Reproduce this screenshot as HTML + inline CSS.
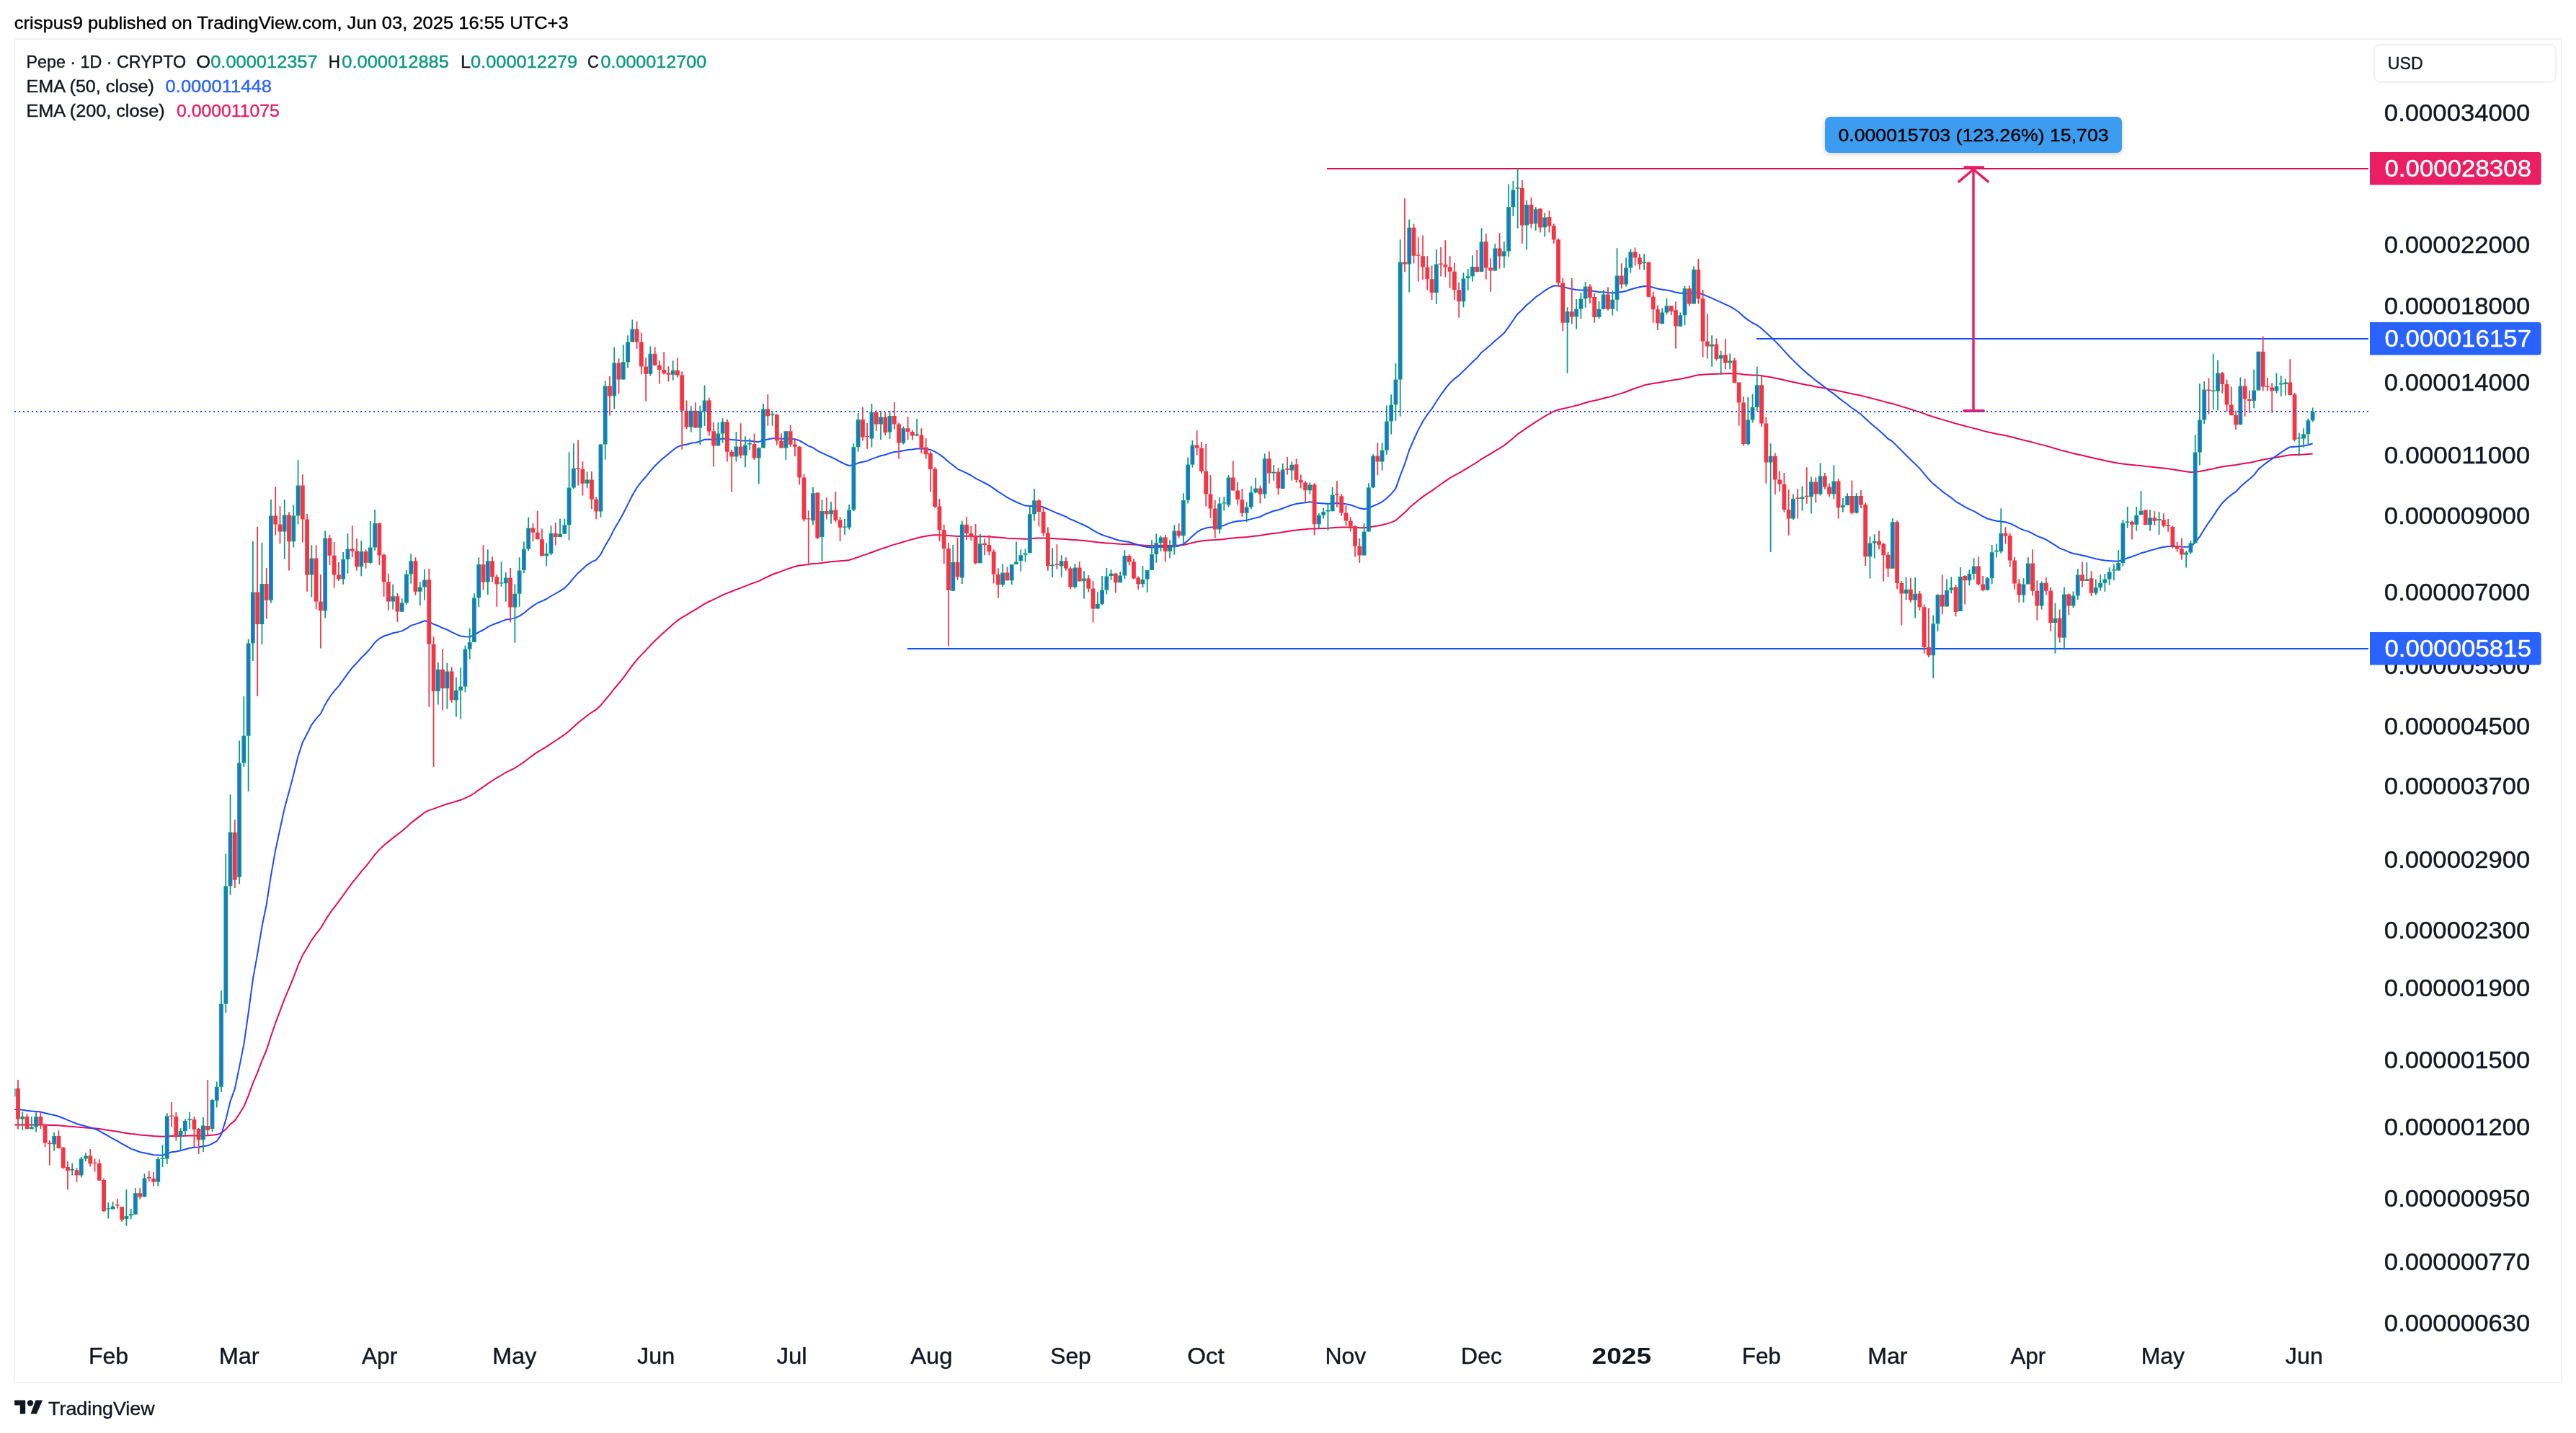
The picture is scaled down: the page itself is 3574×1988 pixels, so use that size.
<!DOCTYPE html><html><head><meta charset="utf-8"><title>Pepe 1D chart</title><style>
html,body{margin:0;padding:0;background:#fff;}
body{width:3574px;height:1988px;overflow:hidden;position:relative;font-family:"Liberation Sans",Arial,sans-serif;}
svg{position:absolute;left:0;top:0;}
</style></head><body>
<svg style="will-change:transform" width="3574" height="1988" viewBox="0 0 3574 1988" font-family="Liberation Sans, Arial, sans-serif">
<rect x="20" y="54" width="3534" height="1864" fill="none" stroke="#f2f2f2" stroke-width="2"/>
<defs><clipPath id="pane"><rect x="20.4" y="55" width="3267.6" height="1775"/></clipPath>
<filter id="sh" x="-10%" y="-30%" width="120%" height="180%"><feDropShadow dx="0" dy="2" stdDeviation="3" flood-color="#000" flood-opacity="0.18"/></filter></defs>
<line x1="1841" y1="234" x2="3286" y2="234" stroke="#e60550" stroke-width="2"/>
<line x1="2437" y1="470" x2="3286" y2="470" stroke="#1450ff" stroke-width="2"/>
<line x1="1259" y1="900" x2="3286" y2="900" stroke="#1450ff" stroke-width="2"/>
<g clip-path="url(#pane)">
<polyline points="18.4,1560.6 25.0,1560.5 31.3,1560.4 37.5,1560.5 43.8,1560.5 50.1,1560.4 56.3,1560.4 62.6,1560.6 68.9,1560.9 75.1,1561.0 81.4,1561.3 87.7,1561.9 93.9,1562.5 100.2,1563.0 106.5,1563.6 112.7,1564.0 119.0,1564.4 125.3,1564.9 131.5,1565.3 137.8,1566.0 144.1,1567.0 150.3,1568.0 156.6,1568.9 162.9,1569.8 169.1,1570.9 175.4,1571.9 181.7,1572.9 187.9,1573.6 194.2,1574.4 200.5,1574.9 206.7,1575.5 213.0,1576.1 219.3,1576.4 225.5,1576.7 231.8,1576.4 238.1,1576.1 244.3,1576.1 250.6,1576.0 256.9,1575.8 263.1,1575.6 269.4,1575.5 275.7,1575.6 281.9,1575.4 288.2,1575.3 294.5,1574.8 300.7,1574.1 307.0,1571.9 313.3,1566.6 319.5,1559.7 325.8,1554.6 332.1,1545.2 338.4,1535.0 344.6,1520.2 350.9,1502.7 357.2,1488.1 363.4,1471.7 369.7,1457.0 376.0,1437.3 382.2,1419.2 388.5,1402.6 394.8,1385.7 401.0,1371.2 407.3,1355.8 413.6,1339.1 419.8,1325.3 426.1,1314.9 432.4,1304.1 438.6,1295.6 444.9,1287.7 451.2,1276.9 457.4,1267.3 463.7,1258.8 470.0,1250.7 476.2,1242.0 482.5,1233.2 488.8,1224.7 495.0,1217.1 501.3,1209.1 507.6,1201.8 513.8,1194.0 520.1,1185.6 526.4,1178.6 532.6,1172.7 538.9,1167.6 545.2,1162.4 551.4,1157.8 557.7,1153.0 564.0,1147.5 570.2,1141.6 576.5,1136.9 582.8,1132.1 589.0,1127.2 595.3,1124.1 601.6,1122.1 607.8,1119.6 614.1,1117.6 620.4,1115.3 626.6,1113.6 632.9,1111.7 639.2,1109.8 645.4,1107.1 651.7,1104.3 658.0,1100.5 664.2,1095.8 670.5,1091.7 676.8,1087.1 683.0,1083.0 689.3,1079.2 695.6,1075.5 701.8,1071.6 708.1,1068.6 714.4,1065.3 720.6,1061.5 726.9,1057.2 733.2,1052.3 739.4,1047.7 745.7,1043.4 752.0,1039.6 758.2,1035.8 764.5,1031.6 770.8,1027.5 777.0,1023.4 783.3,1019.2 789.6,1014.0 795.8,1008.2 802.1,1002.7 808.4,997.7 814.6,992.7 820.9,988.3 827.2,984.4 833.4,978.6 839.7,970.9 846.0,963.7 852.2,955.5 858.5,948.1 864.8,940.3 871.0,931.9 877.3,923.2 883.6,915.3 889.8,908.6 896.1,902.2 902.4,895.3 908.6,889.0 914.9,883.0 921.2,877.3 927.4,871.7 933.7,866.1 940.0,860.9 946.2,856.7 952.5,853.1 958.8,849.1 965.1,845.6 971.3,841.7 977.6,837.7 983.9,834.5 990.1,831.7 996.4,828.6 1002.7,825.4 1008.9,822.9 1015.2,820.5 1021.5,817.9 1027.7,815.6 1034.0,813.1 1040.3,810.6 1046.5,808.4 1052.8,806.1 1059.1,802.9 1065.3,800.0 1071.6,797.0 1077.9,794.7 1084.1,792.6 1090.4,790.1 1096.7,788.0 1102.9,785.9 1109.2,784.5 1115.5,783.8 1121.7,783.1 1128.0,782.0 1134.3,781.7 1140.5,780.9 1146.8,780.1 1153.1,779.3 1159.3,778.7 1165.6,778.2 1171.9,777.7 1178.1,777.0 1184.4,775.1 1190.7,772.7 1196.9,770.6 1203.2,768.6 1209.5,766.2 1215.7,764.0 1222.0,761.6 1228.3,759.7 1234.5,757.4 1240.8,755.4 1247.1,753.7 1253.3,751.8 1259.6,749.9 1265.9,748.2 1272.1,746.5 1278.4,745.0 1284.7,743.7 1290.9,742.7 1297.2,742.3 1303.5,742.2 1309.7,742.4 1316.0,743.1 1322.3,743.5 1328.5,744.0 1334.8,743.8 1341.1,743.8 1347.3,743.8 1353.6,744.1 1359.9,744.2 1366.1,744.3 1372.4,744.5 1378.7,745.0 1384.9,745.6 1391.2,746.1 1397.5,746.7 1403.7,747.0 1410.0,747.3 1416.3,747.5 1422.5,747.7 1428.8,747.4 1435.1,746.8 1441.3,746.4 1447.6,746.4 1453.9,746.7 1460.1,747.1 1466.4,747.4 1472.7,747.7 1478.9,748.1 1485.2,748.7 1491.5,749.1 1497.7,749.6 1504.0,750.1 1510.3,750.7 1516.5,751.6 1522.8,752.3 1529.1,752.9 1535.3,753.4 1541.6,753.8 1547.9,754.3 1554.1,754.7 1560.4,754.9 1566.7,755.1 1572.9,755.6 1579.2,756.1 1585.5,756.5 1591.8,756.9 1598.0,757.0 1604.3,756.9 1610.6,756.8 1616.8,756.9 1623.1,756.9 1629.4,756.7 1635.6,756.6 1641.9,755.9 1648.2,754.6 1654.4,753.0 1660.7,751.5 1667.0,750.4 1673.2,749.7 1679.5,749.2 1685.8,749.1 1692.0,748.6 1698.3,748.0 1704.6,747.1 1710.8,746.4 1717.1,745.8 1723.4,745.4 1729.6,745.0 1735.9,744.3 1742.2,743.6 1748.4,743.0 1754.7,741.8 1761.0,740.8 1767.2,739.9 1773.5,739.2 1779.8,738.3 1786.0,737.3 1792.3,736.3 1798.6,735.5 1804.8,734.8 1811.1,734.2 1817.4,733.6 1823.6,733.5 1829.9,733.3 1836.2,733.1 1842.4,732.8 1848.7,732.3 1855.0,731.8 1861.2,731.6 1867.5,731.5 1873.8,731.5 1880.0,731.8 1886.3,732.2 1892.6,732.2 1898.8,731.6 1905.1,730.5 1911.4,729.5 1917.6,728.3 1923.9,726.6 1930.2,724.6 1936.4,722.1 1942.7,716.5 1949.0,711.1 1955.2,704.6 1961.5,699.2 1967.8,694.0 1974.0,689.1 1980.3,684.8 1986.6,680.9 1992.8,676.2 1999.1,671.7 2005.4,667.4 2011.6,663.2 2017.9,659.6 2024.2,656.4 2030.4,652.7 2036.7,648.9 2043.0,645.0 2049.2,641.3 2055.5,636.8 2061.8,633.2 2068.0,629.6 2074.3,625.6 2080.6,621.9 2086.8,618.0 2093.1,613.1 2099.4,607.7 2105.6,602.4 2111.9,598.2 2118.2,593.6 2124.4,589.6 2130.7,585.3 2137.0,581.5 2143.2,577.6 2149.5,574.0 2155.8,570.7 2162.0,568.5 2168.3,567.1 2174.6,565.6 2180.8,564.1 2187.1,562.5 2193.4,560.8 2199.6,558.8 2205.9,557.0 2212.2,555.7 2218.5,554.2 2224.7,552.5 2231.0,551.1 2237.3,549.5 2243.5,547.4 2249.8,545.6 2256.1,543.5 2262.3,541.0 2268.6,538.7 2274.9,536.6 2281.1,534.5 2287.4,533.1 2293.7,531.9 2299.9,531.0 2306.2,529.9 2312.5,528.7 2318.7,527.7 2325.0,526.8 2331.3,525.8 2337.5,524.4 2343.8,523.2 2350.1,521.5 2356.3,520.2 2362.6,519.8 2368.9,519.3 2375.1,518.9 2381.4,518.7 2387.7,518.4 2393.9,518.3 2400.2,518.1 2406.5,518.2 2412.7,518.6 2419.0,519.5 2425.3,520.1 2431.5,520.5 2437.8,520.6 2444.1,521.2 2450.3,522.3 2456.6,523.2 2462.9,524.4 2469.1,525.7 2475.4,527.2 2481.7,528.7 2487.9,530.0 2494.2,531.4 2500.5,532.7 2506.7,534.0 2513.0,535.1 2519.3,536.4 2525.5,537.5 2531.8,538.6 2538.1,539.9 2544.3,541.0 2550.6,542.3 2556.9,543.6 2563.1,544.9 2569.4,546.2 2575.7,547.4 2581.9,548.7 2588.2,550.4 2594.5,552.0 2600.7,553.6 2607.0,555.2 2613.3,556.9 2619.5,558.7 2625.8,560.0 2632.1,561.9 2638.3,563.9 2644.6,565.8 2650.9,567.7 2657.1,569.6 2663.4,571.6 2669.7,573.9 2675.9,576.2 2682.2,578.3 2688.5,580.2 2694.7,582.1 2701.0,583.9 2707.3,585.7 2713.5,587.6 2719.8,589.3 2726.1,591.0 2732.3,592.6 2738.6,594.1 2744.9,595.8 2751.1,597.6 2757.4,599.2 2763.7,600.5 2769.9,601.9 2776.2,603.1 2782.5,604.3 2788.7,605.7 2795.0,607.3 2801.3,609.0 2807.5,610.6 2813.8,612.0 2820.1,613.6 2826.3,615.4 2832.6,616.9 2838.9,618.5 2845.2,620.4 2851.4,622.2 2857.7,624.1 2864.0,625.7 2870.2,627.4 2876.5,629.0 2882.8,630.4 2889.0,631.8 2895.3,633.2 2901.6,634.7 2907.8,636.2 2914.1,637.6 2920.4,639.0 2926.6,640.2 2932.9,641.5 2939.2,642.7 2945.4,643.4 2951.7,644.2 2958.0,644.9 2964.2,645.6 2970.5,646.1 2976.8,646.9 2983.0,647.5 2989.3,648.2 2995.6,648.9 3001.8,649.6 3008.1,650.3 3014.4,651.3 3020.6,652.2 3026.9,653.3 3033.2,654.3 3039.4,655.1 3045.7,654.8 3052.0,654.1 3058.2,652.8 3064.5,651.5 3070.8,650.3 3077.0,648.7 3083.3,647.4 3089.6,646.4 3095.8,645.7 3102.1,645.1 3108.4,643.8 3114.6,642.8 3120.9,641.9 3127.2,640.8 3133.4,638.9 3139.7,637.8 3146.0,636.6 3152.2,635.6 3158.5,634.5 3164.8,633.3 3171.0,632.2 3177.3,631.2 3183.6,631.0 3189.8,630.8 3196.1,630.5 3202.4,630.0 3208.6,629.4" fill="none" stroke="#e60a55" stroke-width="2" stroke-linejoin="round"/>
<polyline points="18.4,1538.8 25.0,1539.3 31.3,1539.7 37.5,1540.7 43.8,1541.6 50.1,1541.9 56.3,1542.6 62.6,1544.2 68.9,1545.8 75.1,1546.9 81.4,1548.7 87.7,1551.2 93.9,1553.9 100.2,1556.4 106.5,1559.0 112.7,1560.8 119.0,1562.4 125.3,1564.3 131.5,1566.2 137.8,1568.8 144.1,1572.6 150.3,1576.2 156.6,1579.7 162.9,1582.9 169.1,1586.7 175.4,1590.2 181.7,1593.6 187.9,1595.8 194.2,1598.2 200.5,1599.5 206.7,1600.8 213.0,1602.3 219.3,1602.5 225.5,1602.7 231.8,1600.4 238.1,1598.3 244.3,1597.4 250.6,1596.2 256.9,1594.5 263.1,1592.8 269.4,1591.8 275.7,1591.4 281.9,1590.2 288.2,1589.3 294.5,1586.6 300.7,1583.2 307.0,1573.9 313.3,1553.4 319.5,1528.1 325.8,1510.7 332.1,1480.1 338.4,1448.6 344.6,1405.5 350.9,1358.6 357.2,1323.4 363.4,1285.8 369.7,1255.0 376.0,1214.1 382.2,1179.6 388.5,1150.0 394.8,1121.1 401.0,1098.4 407.3,1074.6 413.6,1049.1 419.8,1030.0 426.1,1018.0 432.4,1005.3 438.6,997.1 444.9,990.1 451.2,977.4 457.4,967.0 463.7,958.9 470.0,951.6 476.2,943.1 482.5,934.3 488.8,926.2 495.0,919.7 501.3,912.5 507.6,906.5 513.8,899.6 520.1,891.3 526.4,885.8 532.6,882.5 538.9,880.5 545.2,878.2 551.4,877.0 557.7,875.4 564.0,872.0 570.2,867.9 576.5,865.9 582.8,863.8 589.0,861.3 595.3,862.5 601.6,865.9 607.8,868.2 614.1,871.3 620.4,873.5 626.6,876.9 632.9,879.8 639.2,882.5 645.4,883.2 651.7,883.5 658.0,881.2 664.2,876.9 670.5,874.0 676.8,869.8 683.0,866.8 689.3,864.5 695.6,862.1 701.8,859.6 708.1,858.9 714.4,857.4 720.6,854.7 726.9,850.6 733.2,845.3 739.4,840.6 745.7,836.5 752.0,833.8 758.2,831.0 764.5,827.0 770.8,823.5 777.0,819.9 783.3,815.9 789.6,809.5 795.8,801.9 802.1,794.9 808.4,789.2 814.6,783.6 820.9,779.7 827.2,776.7 833.4,769.1 839.7,757.0 846.0,746.6 852.2,733.9 858.5,723.5 864.8,712.3 871.0,699.9 877.3,687.2 883.6,676.5 889.8,668.4 896.1,661.5 902.4,653.3 908.6,646.5 914.9,640.3 921.2,634.8 927.4,629.7 933.7,624.5 940.0,619.9 946.2,617.8 952.5,616.8 958.8,614.8 965.1,614.0 971.3,612.2 977.6,609.8 983.9,609.4 990.1,609.7 996.4,609.4 1002.7,608.4 1008.9,609.1 1015.2,610.0 1021.5,610.4 1027.7,611.2 1034.0,611.5 1040.3,611.6 1046.5,612.5 1052.8,612.9 1059.1,611.0 1065.3,609.6 1071.6,608.2 1077.9,608.3 1084.1,608.8 1090.4,608.4 1096.7,608.7 1102.9,609.2 1109.2,611.1 1115.5,614.9 1121.7,618.6 1128.0,621.0 1134.3,625.3 1140.5,628.3 1146.8,631.3 1153.1,634.0 1159.3,637.1 1165.6,640.5 1171.9,643.7 1178.1,646.0 1184.4,645.0 1190.7,642.3 1196.9,640.8 1203.2,639.4 1209.5,636.6 1215.7,634.6 1222.0,632.2 1228.3,630.9 1234.5,628.7 1240.8,627.0 1247.1,626.5 1253.3,625.2 1259.6,624.1 1265.9,623.4 1272.1,622.5 1278.4,622.5 1284.7,622.8 1290.9,623.9 1297.2,626.7 1303.5,630.5 1309.7,634.9 1316.0,640.8 1322.3,645.5 1328.5,650.6 1334.8,653.3 1341.1,656.4 1347.3,659.5 1353.6,663.7 1359.9,666.9 1366.1,670.0 1372.4,673.4 1378.7,677.6 1384.9,682.1 1391.2,686.0 1397.5,690.1 1403.7,693.4 1410.0,696.5 1416.3,699.1 1422.5,701.6 1428.8,702.0 1435.1,701.7 1441.3,702.1 1447.6,703.5 1453.9,706.4 1460.1,709.2 1466.4,711.8 1472.7,714.3 1478.9,716.9 1485.2,720.4 1491.5,722.8 1497.7,725.8 1504.0,728.5 1510.3,731.7 1516.5,735.6 1522.8,739.1 1529.1,742.0 1535.3,744.1 1541.6,746.0 1547.9,748.3 1554.1,750.1 1560.4,750.9 1566.7,752.0 1572.9,753.9 1579.2,756.0 1585.5,757.8 1591.8,759.0 1598.0,759.4 1604.3,759.2 1610.6,758.6 1616.8,758.9 1623.1,758.9 1629.4,758.0 1635.6,757.4 1641.9,754.7 1648.2,749.8 1654.4,743.8 1660.7,738.2 1667.0,734.6 1673.2,732.5 1679.5,731.4 1685.8,731.6 1692.0,730.2 1698.3,728.9 1704.6,726.1 1710.8,724.2 1717.1,722.9 1723.4,722.5 1729.6,721.7 1735.9,720.1 1742.2,718.4 1748.4,717.0 1754.7,713.6 1761.0,711.2 1767.2,708.8 1773.5,707.5 1779.8,705.2 1786.0,702.9 1792.3,700.5 1798.6,699.1 1804.8,697.9 1811.1,697.2 1817.4,696.2 1823.6,697.4 1829.9,698.0 1836.2,698.5 1842.4,698.9 1848.7,698.4 1855.0,697.9 1861.2,698.4 1867.5,699.3 1873.8,700.5 1880.0,702.6 1886.3,705.1 1892.6,706.3 1898.8,705.1 1905.1,702.0 1911.4,699.4 1917.6,696.2 1923.9,691.2 1930.2,685.3 1936.4,677.8 1942.7,659.9 1949.0,643.6 1955.2,624.5 1961.5,610.0 1967.8,596.4 1974.0,584.8 1980.3,575.1 1986.6,567.0 1992.8,557.0 1999.1,547.7 2005.4,539.2 2011.6,531.5 2017.9,525.6 2024.2,520.8 2030.4,514.6 2036.7,508.6 2043.0,502.2 2049.2,496.6 2055.5,488.9 2061.8,483.7 2068.0,478.8 2074.3,472.7 2080.6,467.4 2086.8,462.1 2093.1,453.6 2099.4,444.3 2105.6,435.4 2111.9,429.8 2118.2,423.0 2124.4,418.0 2130.7,412.2 2137.0,408.0 2143.2,403.3 2149.5,399.4 2155.8,396.5 2162.0,396.4 2168.3,398.3 2174.6,399.6 2180.8,401.0 2187.1,402.1 2193.4,402.6 2199.6,402.4 2205.9,402.8 2212.2,404.2 2218.5,405.1 2224.7,405.2 2231.0,406.1 2237.3,406.5 2243.5,405.5 2249.8,405.1 2256.1,403.7 2262.3,401.5 2268.6,399.7 2274.9,398.3 2281.1,396.9 2287.4,397.5 2293.7,398.7 2299.9,400.5 2306.2,401.8 2312.5,402.6 2318.7,403.7 2325.0,405.6 2331.3,406.8 2337.5,406.5 2343.8,407.1 2350.1,405.7 2356.3,406.1 2362.6,408.5 2368.9,411.1 2375.1,413.6 2381.4,416.6 2387.7,419.3 2393.9,422.3 2400.2,425.1 2406.5,428.8 2412.7,433.2 2419.0,439.1 2425.3,443.9 2431.5,448.0 2437.8,451.1 2444.1,455.7 2450.3,461.6 2456.6,467.2 2462.9,473.4 2469.1,479.7 2475.4,486.6 2481.7,493.7 2487.9,499.9 2494.2,506.0 2500.5,511.9 2506.7,517.6 2513.0,522.6 2519.3,527.9 2525.5,532.4 2531.8,537.2 2538.1,542.1 2544.3,546.4 2550.6,551.6 2556.9,556.5 2563.1,561.0 2569.4,566.0 2575.7,570.2 2581.9,574.6 2588.2,580.8 2594.5,586.4 2600.7,591.8 2607.0,597.1 2613.3,602.7 2619.5,608.7 2625.8,612.7 2632.1,618.9 2638.3,625.3 2644.6,631.4 2650.9,637.7 2657.1,643.6 2663.4,649.9 2669.7,657.3 2675.9,664.8 2682.2,671.1 2688.5,676.2 2694.7,681.6 2701.0,686.2 2707.3,690.6 2713.5,695.8 2719.8,699.4 2726.1,703.1 2732.3,706.4 2738.6,709.2 2744.9,712.8 2751.1,716.4 2757.4,719.5 2763.7,721.2 2769.9,722.8 2776.2,723.5 2782.5,724.3 2788.7,726.2 2795.0,729.2 2801.3,732.6 2807.5,735.4 2813.8,737.1 2820.1,740.1 2826.3,743.6 2832.6,746.0 2838.9,748.6 2845.2,752.6 2851.4,756.3 2857.7,760.6 2864.0,762.9 2870.2,765.7 2876.5,768.0 2882.8,769.1 2889.0,770.5 2895.3,771.7 2901.6,773.6 2907.8,775.2 2914.1,776.4 2920.4,777.5 2926.6,778.1 2932.9,778.5 2939.2,778.6 2945.4,776.4 2951.7,774.2 2958.0,772.3 2964.2,769.9 2970.5,767.3 2976.8,765.7 2983.0,763.7 2989.3,762.1 2995.6,760.3 3001.8,759.1 3008.1,757.9 3014.4,757.9 3020.6,758.0 3026.9,758.5 3033.2,758.8 3039.4,758.6 3045.7,752.6 3052.0,744.4 3058.2,734.3 3064.5,724.8 3070.8,715.9 3077.0,706.1 3083.3,697.8 3089.6,691.5 3095.8,686.4 3102.1,682.1 3108.4,675.3 3114.6,669.8 3120.9,664.7 3127.2,659.1 3133.4,650.9 3139.7,645.8 3146.0,640.9 3152.2,636.6 3158.5,632.1 3164.8,627.7 3171.0,623.5 3177.3,620.2 3183.6,619.8 3189.8,619.3 3196.1,618.6 3202.4,617.2 3208.6,615.3" fill="none" stroke="#1a4cff" stroke-width="2" stroke-linejoin="round"/>
<path d="M18.73 1505.00V1525.00M31.27 1542.20V1567.50M43.80 1549.10V1566.30M50.07 1542.20V1570.60M75.14 1571.00V1596.70M100.20 1614.00V1630.50M112.74 1605.10V1633.50M119.01 1599.30V1611.30M150.34 1668.20V1690.60M156.61 1667.00V1677.50M175.41 1650.20V1700.70M181.68 1677.10V1691.60M187.94 1648.20V1684.70M200.48 1628.00V1660.60M219.28 1605.20V1645.70M225.54 1588.40V1618.90M231.81 1544.20V1614.90M250.61 1565.10V1595.60M256.88 1552.20V1574.70M263.15 1543.10V1565.90M281.95 1549.80V1598.00M294.48 1525.00V1570.00M300.75 1500.40V1536.50M307.02 1374.30V1515.00M313.28 1184.30V1405.00M319.55 1102.00V1241.50M332.08 1027.50V1226.40M338.35 966.00V1064.00M344.62 886.80V1098.00M350.88 751.00V917.00M363.42 752.80V894.30M375.95 693.00V836.60M394.75 693.00V775.80M407.29 700.40V759.40M413.55 638.20V727.40M432.36 756.30V828.30M451.16 736.20V857.50M476.22 766.00V810.70M482.49 740.00V795.80M501.29 750.00V799.30M513.83 723.00V782.00M520.09 707.00V763.70M545.16 810.70V845.60M557.70 830.20V848.80M563.96 791.00V838.70M570.23 768.20V809.60M582.76 807.30V840.30M589.03 790.00V832.60M607.83 918.70V977.40M620.37 919.70V983.40M632.90 939.50V994.60M639.17 926.20V997.60M645.43 895.40V960.20M651.70 871.50V914.60M657.97 823.20V891.00M664.23 773.30V842.30M676.77 762.20V825.00M695.57 779.30V813.80M701.84 794.10V834.50M714.37 810.40V891.70M720.64 773.30V841.70M726.90 751.30V795.30M733.17 717.40V764.30M758.24 753.40V785.20M764.51 729.30V770.20M777.04 719.50V745.00M783.31 719.50V740.80M789.57 627.30V749.60M795.84 615.20V678.00M814.64 654.60V677.60M833.44 616.20V717.80M839.71 528.30V637.70M852.24 481.40V567.40M864.78 478.40V526.40M871.05 465.30V510.60M877.31 443.50V474.50M902.38 480.40V521.40M933.72 500.30V527.50M958.78 563.30V599.70M971.32 562.40V617.60M977.58 534.40V590.90M996.39 586.00V618.60M1002.65 580.20V614.50M1021.45 599.10V640.60M1033.99 605.30V648.30M1040.25 608.30V624.50M1052.79 620.60V671.30M1059.06 560.00V621.40M1071.59 571.50V590.70M1090.39 598.30V638.30M1127.99 676.00V728.60M1140.53 693.20V778.60M1153.06 696.00V726.70M1171.86 720.00V741.80M1178.13 699.90V734.60M1184.39 615.30V709.10M1190.66 573.10V626.70M1209.46 560.00V620.60M1222.00 570.40V609.90M1234.53 570.40V608.90M1253.33 591.50V616.60M1272.13 581.00V605.60M1322.27 756.00V819.80M1334.80 722.40V809.90M1359.87 740.80V781.30M1391.21 782.20V814.00M1403.74 783.00V811.30M1410.01 751.40V783.00M1416.27 762.20V792.70M1422.54 761.50V779.50M1428.81 702.60V767.50M1435.08 678.00V722.50M1460.14 760.30V800.70M1472.68 770.20V800.70M1491.48 782.10V816.60M1504.01 792.30V830.50M1522.81 821.20V844.40M1529.08 799.00V839.50M1535.35 788.10V824.50M1541.61 790.10V804.70M1554.15 793.10V808.20M1560.42 763.20V803.30M1585.48 785.20V815.30M1591.75 791.00V822.00M1598.02 749.20V791.00M1604.28 740.40V780.70M1610.55 743.30V765.10M1623.09 749.20V774.30M1629.35 728.20V769.60M1641.89 684.20V753.30M1648.15 634.40V698.60M1654.42 611.00V648.60M1692.02 689.70V740.40M1698.29 689.20V708.60M1704.56 659.00V703.60M1729.62 696.20V724.30M1735.89 674.30V706.50M1742.16 663.00V684.20M1754.69 629.20V691.50M1767.23 645.10V666.70M1779.76 643.10V677.90M1792.29 640.20V666.70M1817.36 669.40V685.60M1829.90 712.30V733.50M1836.16 704.40V719.40M1842.43 697.50V735.70M1848.70 676.00V709.20M1892.57 726.20V770.50M1898.83 670.30V737.50M1905.10 630.20V677.30M1917.63 614.20V652.80M1923.90 562.40V630.70M1930.17 547.30V602.50M1936.44 504.10V583.70M1942.70 332.30V577.40M1955.24 304.50V405.50M1992.84 345.90V422.10M2030.44 378.20V426.50M2036.71 373.20V402.80M2042.97 354.30V390.50M2055.51 316.40V377.00M2074.31 338.30V375.50M2086.84 335.30V371.60M2093.11 255.40V356.30M2099.38 251.10V300.00M2105.64 233.00V316.80M2118.18 278.00V346.60M2130.71 287.20V319.90M2143.25 295.30V328.60M2174.58 426.30V517.70M2187.12 415.10V456.60M2193.38 406.20V442.40M2199.65 391.10V426.70M2218.45 418.00V442.60M2224.72 402.20V429.30M2237.25 403.20V437.60M2243.52 344.20V431.70M2256.05 357.40V397.60M2262.32 345.20V378.70M2281.12 352.30V374.50M2306.19 427.50V449.20M2312.45 414.10V436.40M2331.26 433.40V453.00M2337.52 397.10V451.20M2350.06 369.20V421.50M2375.12 465.20V508.80M2387.66 486.50V520.10M2400.19 490.50V512.30M2425.26 551.10V617.60M2431.53 546.40V586.30M2437.80 508.40V570.00M2456.60 615.20V766.00M2487.93 685.50V721.30M2500.47 674.50V708.50M2513.00 661.30V712.60M2525.53 642.50V687.40M2544.33 645.30V692.40M2556.87 691.10V710.50M2563.14 684.30V701.00M2575.67 684.30V712.40M2594.47 744.20V802.60M2600.74 741.20V774.50M2625.81 718.90V788.80M2644.61 801.10V832.00M2657.14 801.10V857.30M2682.21 853.60V941.00M2688.48 824.20V876.10M2701.01 803.20V841.50M2707.28 800.40V823.20M2719.81 787.10V848.10M2732.34 790.30V812.30M2738.61 774.30V804.30M2757.41 800.40V818.70M2763.68 756.10V810.40M2769.95 754.20V773.50M2776.21 705.20V767.40M2807.55 802.30V835.70M2813.82 773.10V810.40M2832.62 806.40V845.40M2851.42 836.40V906.50M2863.95 814.40V901.50M2876.49 820.40V843.30M2882.75 789.20V832.10M2895.29 780.20V806.00M2907.82 803.60V825.40M2914.09 797.30V819.40M2920.35 795.90V820.70M2926.62 787.20V811.50M2932.89 782.50V805.30M2939.16 762.90V791.40M2945.42 721.00V785.90M2951.69 703.10V732.30M2964.22 703.10V736.60M2970.49 681.00V714.30M2983.02 707.10V736.60M2995.56 710.00V741.70M3033.16 764.20V787.60M3039.43 750.20V768.70M3045.69 603.50V753.40M3051.96 532.30V645.30M3058.23 529.10V588.20M3070.76 490.40V567.90M3077.03 499.40V569.30M3108.36 523.50V589.20M3127.16 512.40V566.50M3133.43 487.80V541.40M3158.50 517.40V545.60M3164.77 521.30V549.80M3171.03 525.50V548.60M3189.84 600.50V632.70M3196.10 594.20V620.70M3202.37 580.40V616.00M3208.64 565.40V585.50" stroke="#089981" stroke-width="1.75" fill="none"/>
<path d="M25.00 1498.00V1566.80M37.53 1545.00V1566.30M56.34 1541.40V1566.30M62.60 1560.60V1591.60M68.87 1582.10V1616.70M81.40 1568.30V1593.60M87.67 1591.30V1621.70M93.94 1611.30V1650.40M106.47 1620.20V1639.70M125.27 1594.10V1618.60M131.54 1607.40V1625.40M137.81 1608.20V1638.10M144.07 1635.10V1681.60M162.87 1663.00V1676.70M169.14 1674.30V1694.80M194.21 1648.20V1663.80M206.74 1624.20V1638.90M213.01 1626.10V1645.70M238.08 1529.00V1563.50M244.34 1543.10V1582.70M269.41 1549.00V1591.60M275.68 1565.10V1600.70M288.21 1498.00V1575.00M325.82 1137.00V1232.00M357.15 731.00V966.00M369.69 788.00V858.50M382.22 675.30V742.50M388.49 702.30V754.40M401.02 710.20V791.50M419.82 658.30V752.50M426.09 713.00V820.70M438.62 756.30V845.60M444.89 797.00V899.50M457.42 742.00V784.00M463.69 752.00V815.50M469.96 780.00V806.00M488.76 729.00V773.00M495.03 747.00V791.70M507.56 762.50V788.60M526.36 725.00V784.00M532.63 768.00V827.80M538.89 795.80V846.80M551.43 823.00V862.80M576.50 773.30V825.70M595.30 789.00V980.80M601.56 883.20V1063.80M614.10 900.40V985.50M626.63 925.30V974.70M670.50 756.20V818.70M683.04 772.00V807.50M689.30 797.00V841.70M708.10 788.00V863.60M739.44 726.20V751.30M745.71 708.40V748.20M751.97 733.50V771.20M770.77 725.10V756.50M802.11 610.60V673.40M808.38 640.30V687.40M820.91 654.00V706.30M827.18 689.50V720.30M845.98 522.10V576.50M858.51 497.30V546.50M883.58 446.10V483.70M889.85 461.50V519.40M896.11 496.30V556.70M908.65 481.40V507.50M914.91 500.30V532.60M921.18 488.30V519.40M927.45 508.30V529.50M939.98 496.30V523.40M946.25 515.20V623.80M952.52 555.60V595.50M965.05 558.20V593.50M983.85 551.40V604.60M990.12 586.00V647.50M1008.92 581.50V640.60M1015.19 623.70V682.50M1027.72 587.30V635.50M1046.52 601.40V638.30M1065.32 546.90V590.70M1077.86 574.50V617.50M1084.12 601.40V621.40M1096.66 589.90V619.80M1102.92 609.40V632.90M1109.19 619.00V672.40M1115.46 657.50V723.50M1121.73 708.30V784.20M1134.26 683.60V747.50M1146.79 690.30V720.50M1159.33 682.00V724.50M1165.59 717.50V750.70M1196.93 565.00V611.60M1203.20 587.10V622.80M1215.73 569.20V597.70M1228.26 572.10V603.90M1240.80 558.00V595.50M1247.07 586.50V636.70M1259.60 578.10V609.90M1265.87 596.50V610.60M1278.40 594.20V628.70M1284.67 608.00V636.80M1290.93 626.40V682.30M1297.20 648.30V704.70M1303.47 692.00V750.70M1309.74 727.70V782.20M1316.00 753.00V896.40M1328.54 746.10V804.80M1341.07 716.90V749.10M1347.34 730.00V750.00M1353.60 727.00V783.00M1366.14 747.30V770.30M1372.40 742.20V770.30M1378.67 762.20V809.40M1384.94 788.20V829.70M1397.47 786.40V805.30M1441.34 692.40V730.40M1447.61 703.30V743.70M1453.88 731.40V791.80M1466.41 755.20V789.70M1478.94 773.20V791.40M1485.21 786.10V817.50M1497.75 779.10V806.40M1510.28 798.00V821.50M1516.55 806.00V863.60M1547.88 795.40V822.60M1566.68 769.30V784.40M1572.95 775.10V803.60M1579.22 799.40V817.80M1616.82 742.10V779.60M1635.62 726.00V746.60M1660.69 597.00V631.50M1666.95 613.10V656.70M1673.22 616.00V702.60M1679.49 659.00V718.70M1685.76 693.50V746.60M1710.82 639.40V680.50M1717.09 669.10V700.20M1723.36 678.30V716.70M1748.43 673.40V698.50M1760.96 626.20V670.70M1773.49 649.10V686.60M1786.03 634.10V658.40M1798.56 636.20V669.60M1804.83 658.40V677.60M1811.10 667.30V696.80M1823.63 670.30V742.60M1854.96 667.30V703.50M1861.23 685.30V715.80M1867.50 701.20V729.50M1873.77 717.20V737.50M1880.03 728.70V772.40M1886.30 746.90V780.80M1911.37 614.20V659.40M1948.97 275.20V377.60M1961.50 310.40V365.50M1967.77 329.30V390.50M1974.04 326.40V387.90M1980.30 355.30V402.60M1986.57 368.40V415.90M1999.11 343.00V383.40M2005.37 333.20V384.60M2011.64 355.30V399.60M2017.91 365.10V415.90M2024.17 391.80V440.70M2049.24 347.10V377.80M2061.78 324.00V387.80M2068.04 358.30V404.70M2080.58 323.30V372.70M2111.91 249.90V337.90M2124.45 274.10V316.80M2136.98 289.20V322.50M2149.51 292.30V322.50M2155.78 310.20V337.90M2162.05 330.60V397.30M2168.31 386.00V459.50M2180.85 386.00V449.50M2205.92 394.30V420.80M2212.18 407.00V447.70M2230.98 398.20V430.70M2249.79 365.20V400.50M2268.59 343.40V368.70M2274.85 352.30V373.70M2287.39 363.20V412.60M2293.65 404.40V447.70M2299.92 423.40V457.80M2318.72 424.20V437.00M2324.99 418.40V483.50M2343.79 396.20V424.70M2356.32 359.10V421.50M2362.59 402.00V495.70M2368.86 435.20V497.40M2381.39 469.50V500.40M2393.93 470.00V512.30M2406.46 496.60V531.50M2412.73 530.60V590.50M2418.99 550.20V618.40M2444.06 521.90V592.60M2450.33 578.40V670.80M2462.86 628.40V685.90M2469.13 653.40V681.70M2475.40 656.10V710.40M2481.66 679.30V742.80M2494.20 678.30V719.40M2506.73 648.20V698.70M2519.27 662.30V697.60M2531.80 656.10V678.70M2538.07 670.40V689.20M2550.60 664.20V719.40M2569.40 666.40V713.50M2581.94 680.00V705.30M2588.20 697.30V785.30M2607.00 736.20V762.20M2613.27 752.90V806.50M2619.54 765.80V800.40M2632.07 722.20V817.30M2638.34 806.00V867.50M2650.87 801.70V835.70M2663.41 819.90V847.10M2669.67 838.50V906.40M2675.94 843.70V912.00M2694.74 797.40V852.30M2713.54 811.70V855.30M2726.08 798.30V838.50M2744.88 772.20V812.30M2751.14 799.10V820.30M2782.48 731.40V754.50M2788.75 739.40V786.60M2795.01 772.70V817.60M2801.28 803.10V835.70M2820.08 762.20V826.40M2826.35 805.20V860.40M2838.88 801.10V825.60M2845.15 814.40V875.80M2857.68 845.50V891.40M2870.22 823.20V853.40M2889.02 779.20V814.40M2901.55 792.20V827.10M2957.96 722.20V748.40M2976.76 707.10V728.20M2989.29 709.30V728.90M3001.83 712.20V731.70M3008.09 720.10V737.70M3014.36 729.20V760.60M3020.63 752.10V765.60M3026.89 747.10V776.60M3064.50 524.50V574.80M3083.30 516.10V545.40M3089.56 526.60V571.00M3095.83 536.40V576.20M3102.10 569.40V595.90M3114.63 525.50V577.80M3120.90 541.40V572.40M3139.70 466.50V542.60M3145.97 524.10V542.60M3152.23 531.30V572.40M3177.30 498.30V548.60M3183.57 544.70V612.60" stroke="#f23645" stroke-width="1.75" fill="none"/>
<path d="M15.83 1510.00h5.80v11.50h-5.80zM28.37 1549.10h5.80v3.50h-5.80zM40.90 1563.40h5.80v2.90h-5.80zM47.17 1549.10h5.80v14.30h-5.80zM72.24 1576.00h5.80v11.50h-5.80zM97.30 1622.00h5.80v1.60h-5.80zM109.84 1607.40h5.80v23.10h-5.80zM116.11 1603.60h5.80v3.80h-5.80zM147.44 1676.20h5.80v1.30h-5.80zM153.71 1673.40h5.80v4.10h-5.80zM172.51 1687.10h5.80v4.00h-5.80zM178.78 1684.20h5.80v2.10h-5.80zM185.04 1655.30h5.80v29.40h-5.80zM197.58 1634.40h5.80v26.20h-5.80zM216.38 1608.10h5.80v31.60h-5.80zM222.64 1606.40h5.80v1.60h-5.80zM228.91 1548.20h5.80v59.40h-5.80zM247.71 1569.10h5.80v7.20h-5.80zM253.98 1555.10h5.80v14.00h-5.80zM260.25 1552.25h5.80v1.60h-5.80zM279.05 1561.60h5.80v19.90h-5.80zM291.58 1526.00h5.80v40.00h-5.80zM297.85 1507.80h5.80v19.00h-5.80zM304.12 1392.80h5.80v115.00h-5.80zM310.38 1229.20h5.80v163.60h-5.80zM316.65 1154.40h5.80v74.80h-5.80zM329.18 1058.50h5.80v158.50h-5.80zM335.45 1020.80h5.80v37.70h-5.80zM341.72 892.50h5.80v128.30h-5.80zM347.98 821.50h5.80v71.00h-5.80zM360.52 810.00h5.80v56.00h-5.80zM373.05 715.50h5.80v117.30h-5.80zM391.85 714.50h5.80v23.00h-5.80zM404.39 715.50h5.80v35.80h-5.80zM410.65 673.40h5.80v42.10h-5.80zM429.46 774.40h5.80v23.00h-5.80zM448.26 746.60h5.80v100.70h-5.80zM473.32 776.00h5.80v27.60h-5.80zM479.59 761.40h5.80v14.60h-5.80zM498.39 765.00h5.80v21.30h-5.80zM510.93 759.50h5.80v21.30h-5.80zM517.19 726.00h5.80v33.50h-5.80zM542.26 827.30h5.80v7.10h-5.80zM554.80 836.30h5.80v12.50h-5.80zM561.06 796.40h5.80v39.90h-5.80zM567.33 778.20h5.80v18.20h-5.80zM579.86 814.50h5.80v6.30h-5.80zM586.13 804.50h5.80v10.00h-5.80zM604.93 928.80h5.80v30.30h-5.80zM617.47 931.40h5.80v23.70h-5.80zM630.00 957.70h5.80v13.60h-5.80zM636.27 952.50h5.80v5.20h-5.80zM642.53 900.40h5.80v52.10h-5.80zM648.80 891.00h5.80v9.40h-5.80zM655.07 829.60h5.80v61.40h-5.80zM661.33 783.10h5.80v46.50h-5.80zM673.87 778.20h5.80v29.30h-5.80zM692.67 808.20h5.80v1.40h-5.80zM698.94 801.50h5.80v7.70h-5.80zM711.47 823.70h5.80v18.90h-5.80zM717.74 791.50h5.80v32.20h-5.80zM724.00 761.80h5.80v29.30h-5.80zM730.27 732.50h5.80v29.30h-5.80zM755.34 768.00h5.80v3.20h-5.80zM761.61 739.80h5.80v28.20h-5.80zM774.14 740.80h5.80v4.20h-5.80zM780.41 728.30h5.80v12.50h-5.80zM786.67 676.50h5.80v51.80h-5.80zM792.94 649.70h5.80v26.80h-5.80zM811.74 665.40h5.80v5.30h-5.80zM830.54 616.40h5.80v93.00h-5.80zM836.81 535.60h5.80v80.80h-5.80zM849.34 503.40h5.80v46.10h-5.80zM861.88 502.20h5.80v24.20h-5.80zM868.15 474.50h5.80v27.70h-5.80zM874.41 456.40h5.80v18.10h-5.80zM899.48 490.70h5.80v28.10h-5.80zM930.82 513.70h5.80v6.10h-5.80zM955.88 569.70h5.80v22.80h-5.80zM968.42 570.50h5.80v23.00h-5.80zM974.68 555.60h5.80v14.90h-5.80zM993.49 601.40h5.80v17.20h-5.80zM999.75 585.30h5.80v16.10h-5.80zM1018.55 619.50h5.80v13.90h-5.80zM1031.09 617.50h5.80v14.30h-5.80zM1037.35 614.80h5.80v1.60h-5.80zM1049.89 621.40h5.80v14.10h-5.80zM1056.15 567.60h5.80v53.80h-5.80zM1068.69 574.25h5.80v1.60h-5.80zM1087.49 598.30h5.80v23.10h-5.80zM1125.09 684.30h5.80v37.90h-5.80zM1137.63 709.10h5.80v36.00h-5.80zM1150.16 707.40h5.80v5.90h-5.80zM1168.96 730.50h5.80v1.20h-5.80zM1175.23 707.40h5.80v24.30h-5.80zM1181.49 620.30h5.80v87.10h-5.80zM1187.76 582.10h5.80v38.20h-5.80zM1206.56 572.10h5.80v36.50h-5.80zM1219.10 578.40h5.80v10.10h-5.80zM1231.63 577.10h5.80v22.30h-5.80zM1250.43 594.30h5.80v20.10h-5.80zM1269.23 602.60h5.80v1.60h-5.80zM1319.37 780.00h5.80v39.80h-5.80zM1331.90 727.70h5.80v73.70h-5.80zM1356.97 754.20h5.80v27.10h-5.80zM1388.31 794.50h5.80v16.80h-5.80zM1400.84 783.00h5.80v22.30h-5.80zM1407.11 779.50h5.80v3.50h-5.80zM1413.37 770.20h5.80v7.90h-5.80zM1419.64 767.50h5.80v2.00h-5.80zM1425.91 713.20h5.80v53.70h-5.80zM1432.17 694.20h5.80v19.00h-5.80zM1457.24 783.50h5.80v1.70h-5.80zM1469.78 778.20h5.80v7.00h-5.80zM1488.58 787.40h5.80v27.20h-5.80zM1501.11 802.40h5.80v3.60h-5.80zM1519.91 837.80h5.80v6.60h-5.80zM1526.18 818.60h5.80v19.20h-5.80zM1532.45 799.40h5.80v19.20h-5.80zM1538.71 795.80h5.80v3.20h-5.80zM1551.25 798.40h5.80v9.80h-5.80zM1557.52 771.10h5.80v27.30h-5.80zM1582.58 804.10h5.80v6.20h-5.80zM1588.85 791.00h5.80v12.60h-5.80zM1595.12 768.90h5.80v22.10h-5.80zM1601.38 753.30h5.80v15.60h-5.80zM1607.65 745.50h5.80v7.80h-5.80zM1620.18 759.20h5.80v5.90h-5.80zM1626.45 736.60h5.80v22.60h-5.80zM1638.99 693.90h5.80v49.40h-5.80zM1645.25 644.40h5.80v49.50h-5.80zM1651.52 617.60h5.80v26.80h-5.80zM1689.12 698.60h5.80v35.80h-5.80zM1695.39 697.20h5.80v1.40h-5.80zM1701.66 662.40h5.80v38.20h-5.80zM1726.72 703.50h5.80v8.30h-5.80zM1732.99 683.20h5.80v20.30h-5.80zM1739.26 677.60h5.80v5.60h-5.80zM1751.79 636.20h5.80v49.40h-5.80zM1764.33 654.80h5.80v1.60h-5.80zM1776.86 651.40h5.80v26.50h-5.80zM1789.39 644.70h5.80v7.70h-5.80zM1814.46 672.60h5.80v7.70h-5.80zM1827.00 714.70h5.80v12.60h-5.80zM1833.26 710.10h5.80v4.60h-5.80zM1839.53 707.85h5.80v1.60h-5.80zM1845.80 686.60h5.80v22.60h-5.80zM1889.67 737.50h5.80v33.00h-5.80zM1895.93 676.30h5.80v61.20h-5.80zM1902.20 632.60h5.80v43.70h-5.80zM1914.73 624.50h5.80v16.00h-5.80zM1921.00 584.40h5.80v40.10h-5.80zM1927.27 561.80h5.80v22.60h-5.80zM1933.54 526.60h5.80v34.80h-5.80zM1939.80 363.50h5.80v163.10h-5.80zM1952.34 315.70h5.80v50.70h-5.80zM1989.94 366.40h5.80v39.70h-5.80zM2027.54 386.40h5.80v31.90h-5.80zM2033.81 383.20h5.80v2.70h-5.80zM2040.07 370.10h5.80v13.10h-5.80zM2052.61 335.30h5.80v41.70h-5.80zM2071.41 344.50h5.80v31.00h-5.80zM2083.94 348.60h5.80v6.90h-5.80zM2090.21 287.20h5.80v61.40h-5.80zM2096.48 263.40h5.80v23.80h-5.80zM2102.74 260.25h5.80v1.60h-5.80zM2115.28 284.10h5.80v28.40h-5.80zM2127.81 290.30h5.80v19.90h-5.80zM2140.35 301.50h5.80v14.10h-5.80zM2171.68 432.30h5.80v15.40h-5.80zM2184.22 428.70h5.80v10.70h-5.80zM2190.48 414.50h5.80v14.20h-5.80zM2196.75 397.50h5.80v17.00h-5.80zM2215.55 428.70h5.80v11.30h-5.80zM2221.82 408.50h5.80v20.20h-5.80zM2234.35 415.70h5.80v13.00h-5.80zM2240.62 382.50h5.80v33.20h-5.80zM2253.15 371.40h5.80v23.20h-5.80zM2259.42 349.40h5.80v22.00h-5.80zM2278.22 363.25h5.80v1.60h-5.80zM2303.29 433.50h5.80v15.70h-5.80zM2309.55 424.30h5.80v9.20h-5.80zM2328.36 437.20h5.80v15.80h-5.80zM2334.62 400.30h5.80v36.90h-5.80zM2347.16 374.10h5.80v47.40h-5.80zM2372.22 477.70h5.80v2.80h-5.80zM2384.76 492.70h5.80v4.70h-5.80zM2397.29 500.40h5.80v3.20h-5.80zM2422.36 582.60h5.80v33.50h-5.80zM2428.63 564.90h5.80v17.70h-5.80zM2434.89 534.30h5.80v30.60h-5.80zM2453.70 632.70h5.80v8.90h-5.80zM2485.03 691.90h5.80v27.50h-5.80zM2497.57 689.60h5.80v2.30h-5.80zM2510.10 668.50h5.80v20.70h-5.80zM2522.63 660.40h5.80v25.10h-5.80zM2541.43 667.40h5.80v18.10h-5.80zM2553.97 701.00h5.80v2.80h-5.80zM2560.24 688.00h5.80v13.00h-5.80zM2572.77 688.00h5.80v23.40h-5.80zM2591.57 753.50h5.80v18.80h-5.80zM2597.84 750.70h5.80v2.80h-5.80zM2622.91 724.30h5.80v64.50h-5.80zM2641.71 817.70h5.80v5.70h-5.80zM2654.24 823.80h5.80v8.60h-5.80zM2679.31 865.30h5.80v43.90h-5.80zM2685.58 824.90h5.80v40.40h-5.80zM2698.11 819.00h5.80v22.50h-5.80zM2704.38 815.20h5.80v3.20h-5.80zM2716.91 800.00h5.80v48.10h-5.80zM2729.44 795.90h5.80v9.30h-5.80zM2735.71 785.50h5.80v10.40h-5.80zM2754.51 802.30h5.80v16.40h-5.80zM2760.78 766.20h5.80v36.10h-5.80zM2767.05 763.80h5.80v1.60h-5.80zM2773.31 739.80h5.80v25.30h-5.80zM2804.65 810.40h5.80v15.20h-5.80zM2810.91 781.50h5.80v28.90h-5.80zM2829.72 808.80h5.80v31.70h-5.80zM2848.52 857.70h5.80v6.40h-5.80zM2861.05 824.40h5.80v60.30h-5.80zM2873.59 826.60h5.80v13.90h-5.80zM2879.85 797.60h5.80v29.00h-5.80zM2892.39 803.60h5.80v2.40h-5.80zM2904.92 814.90h5.80v7.80h-5.80zM2911.19 808.70h5.80v6.20h-5.80zM2917.45 803.60h5.80v5.10h-5.80zM2923.72 793.60h5.80v10.00h-5.80zM2929.99 790.00h5.80v1.60h-5.80zM2936.26 780.90h5.80v10.50h-5.80zM2942.52 725.60h5.80v55.30h-5.80zM2948.79 723.60h5.80v1.30h-5.80zM2961.32 714.80h5.80v12.90h-5.80zM2967.59 708.80h5.80v5.50h-5.80zM2980.12 718.20h5.80v10.00h-5.80zM2992.66 720.05h5.80v1.60h-5.80zM3030.26 766.50h5.80v2.90h-5.80zM3036.53 753.40h5.80v13.10h-5.80zM3042.79 627.50h5.80v125.90h-5.80zM3049.06 582.50h5.80v45.00h-5.80zM3055.33 540.60h5.80v41.90h-5.80zM3067.86 541.40h5.80v1.60h-5.80zM3074.13 517.60h5.80v25.10h-5.80zM3105.46 535.50h5.80v53.70h-5.80zM3124.26 541.40h5.80v14.60h-5.80zM3130.53 487.80h5.80v53.60h-5.80zM3155.60 535.90h5.80v6.30h-5.80zM3161.87 531.80h5.80v1.60h-5.80zM3168.13 530.50h5.80v2.50h-5.80zM3186.93 607.00h5.80v1.60h-5.80zM3193.20 602.20h5.80v6.20h-5.80zM3199.47 583.30h5.80v18.90h-5.80zM3205.74 571.60h5.80v11.70h-5.80z" fill="#089981"/>
<path d="M17.63 1511.80h2.20v7.90h-2.20zM48.97 1550.90h2.20v10.70h-2.20zM74.04 1577.80h2.20v7.90h-2.20zM111.64 1609.20h2.20v19.50h-2.20zM117.91 1605.40h2.20v0.20h-2.20zM155.51 1675.20h2.20v0.50h-2.20zM174.31 1688.90h2.20v0.40h-2.20zM186.84 1657.10h2.20v25.80h-2.20zM199.38 1636.20h2.20v22.60h-2.20zM218.18 1609.90h2.20v28.00h-2.20zM230.71 1550.00h2.20v55.80h-2.20zM249.51 1570.90h2.20v3.60h-2.20zM255.78 1556.90h2.20v10.40h-2.20zM280.85 1563.40h2.20v16.30h-2.20zM293.38 1527.80h2.20v36.40h-2.20zM299.65 1509.60h2.20v15.40h-2.20zM305.92 1394.60h2.20v111.40h-2.20zM312.18 1231.00h2.20v160.00h-2.20zM318.45 1156.20h2.20v71.20h-2.20zM330.98 1060.30h2.20v154.90h-2.20zM337.25 1022.60h2.20v34.10h-2.20zM343.52 894.30h2.20v124.70h-2.20zM349.78 823.30h2.20v67.40h-2.20zM362.32 811.80h2.20v52.40h-2.20zM374.85 717.30h2.20v113.70h-2.20zM393.65 716.30h2.20v19.40h-2.20zM406.19 717.30h2.20v32.20h-2.20zM412.45 675.20h2.20v38.50h-2.20zM431.25 776.20h2.20v19.40h-2.20zM450.06 748.40h2.20v97.10h-2.20zM475.12 777.80h2.20v24.00h-2.20zM481.39 763.20h2.20v11.00h-2.20zM500.19 766.80h2.20v17.70h-2.20zM512.73 761.30h2.20v17.70h-2.20zM518.99 727.80h2.20v29.90h-2.20zM544.06 829.10h2.20v3.50h-2.20zM556.60 838.10h2.20v8.90h-2.20zM562.86 798.20h2.20v36.30h-2.20zM569.13 780.00h2.20v14.60h-2.20zM581.66 816.30h2.20v2.70h-2.20zM587.93 806.30h2.20v6.40h-2.20zM606.73 930.60h2.20v26.70h-2.20zM619.26 933.20h2.20v20.10h-2.20zM631.80 959.50h2.20v10.00h-2.20zM638.07 954.30h2.20v1.60h-2.20zM644.33 902.20h2.20v48.50h-2.20zM650.60 892.80h2.20v5.80h-2.20zM656.87 831.40h2.20v57.80h-2.20zM663.13 784.90h2.20v42.90h-2.20zM675.67 780.00h2.20v25.70h-2.20zM700.74 803.30h2.20v4.10h-2.20zM713.27 825.50h2.20v15.30h-2.20zM719.54 793.30h2.20v28.60h-2.20zM725.80 763.60h2.20v25.70h-2.20zM732.07 734.30h2.20v25.70h-2.20zM763.41 741.60h2.20v24.60h-2.20zM775.94 742.60h2.20v0.60h-2.20zM782.21 730.10h2.20v8.90h-2.20zM788.47 678.30h2.20v48.20h-2.20zM794.74 651.50h2.20v23.20h-2.20zM813.54 667.20h2.20v1.70h-2.20zM832.34 618.20h2.20v89.40h-2.20zM838.61 537.40h2.20v77.20h-2.20zM851.14 505.20h2.20v42.50h-2.20zM863.68 504.00h2.20v20.60h-2.20zM869.95 476.30h2.20v24.10h-2.20zM876.21 458.20h2.20v14.50h-2.20zM901.28 492.50h2.20v24.50h-2.20zM932.62 515.50h2.20v2.50h-2.20zM957.68 571.50h2.20v19.20h-2.20zM970.22 572.30h2.20v19.40h-2.20zM976.48 557.40h2.20v11.30h-2.20zM995.29 603.20h2.20v13.60h-2.20zM1001.55 587.10h2.20v12.50h-2.20zM1020.35 621.30h2.20v10.30h-2.20zM1032.89 619.30h2.20v10.70h-2.20zM1051.69 623.20h2.20v10.50h-2.20zM1057.96 569.40h2.20v50.20h-2.20zM1089.29 600.10h2.20v19.50h-2.20zM1126.89 686.10h2.20v34.30h-2.20zM1139.43 710.90h2.20v32.40h-2.20zM1151.96 709.20h2.20v2.30h-2.20zM1177.03 709.20h2.20v20.70h-2.20zM1183.30 622.10h2.20v83.50h-2.20zM1189.56 583.90h2.20v34.60h-2.20zM1208.36 573.90h2.20v32.90h-2.20zM1220.90 580.20h2.20v6.50h-2.20zM1233.43 578.90h2.20v18.70h-2.20zM1252.23 596.10h2.20v16.50h-2.20zM1321.17 781.80h2.20v36.20h-2.20zM1333.70 729.50h2.20v70.10h-2.20zM1358.77 756.00h2.20v23.50h-2.20zM1390.11 796.30h2.20v13.20h-2.20zM1402.64 784.80h2.20v18.70h-2.20zM1415.17 772.00h2.20v4.30h-2.20zM1427.71 715.00h2.20v50.10h-2.20zM1433.98 696.00h2.20v15.40h-2.20zM1471.58 780.00h2.20v3.40h-2.20zM1490.38 789.20h2.20v23.60h-2.20zM1502.91 804.20h2.20v0.00h-2.20zM1521.71 839.60h2.20v3.00h-2.20zM1527.98 820.40h2.20v15.60h-2.20zM1534.25 801.20h2.20v15.60h-2.20zM1553.05 800.20h2.20v6.20h-2.20zM1559.32 772.90h2.20v23.70h-2.20zM1584.38 805.90h2.20v2.60h-2.20zM1590.65 792.80h2.20v9.00h-2.20zM1596.92 770.70h2.20v18.50h-2.20zM1603.18 755.10h2.20v12.00h-2.20zM1609.45 747.30h2.20v4.20h-2.20zM1621.99 761.00h2.20v2.30h-2.20zM1628.25 738.40h2.20v19.00h-2.20zM1640.79 695.70h2.20v45.80h-2.20zM1647.05 646.20h2.20v45.90h-2.20zM1653.32 619.40h2.20v23.20h-2.20zM1690.92 700.40h2.20v32.20h-2.20zM1703.46 664.20h2.20v34.60h-2.20zM1728.52 705.30h2.20v4.70h-2.20zM1734.79 685.00h2.20v16.70h-2.20zM1741.06 679.40h2.20v2.00h-2.20zM1753.59 638.00h2.20v45.80h-2.20zM1778.66 653.20h2.20v22.90h-2.20zM1791.19 646.50h2.20v4.10h-2.20zM1816.26 674.40h2.20v4.10h-2.20zM1828.80 716.50h2.20v9.00h-2.20zM1835.06 711.90h2.20v1.00h-2.20zM1847.60 688.40h2.20v19.00h-2.20zM1891.47 739.30h2.20v29.40h-2.20zM1897.73 678.10h2.20v57.60h-2.20zM1904.00 634.40h2.20v40.10h-2.20zM1916.53 626.30h2.20v12.40h-2.20zM1922.80 586.20h2.20v36.50h-2.20zM1929.07 563.60h2.20v19.00h-2.20zM1935.34 528.40h2.20v31.20h-2.20zM1941.60 365.30h2.20v159.50h-2.20zM1954.14 317.50h2.20v47.10h-2.20zM1991.74 368.20h2.20v36.10h-2.20zM2029.34 388.20h2.20v28.30h-2.20zM2041.87 371.90h2.20v9.50h-2.20zM2054.41 337.10h2.20v38.10h-2.20zM2073.21 346.30h2.20v27.40h-2.20zM2085.74 350.40h2.20v3.30h-2.20zM2092.01 289.00h2.20v57.80h-2.20zM2098.28 265.20h2.20v20.20h-2.20zM2117.08 285.90h2.20v24.80h-2.20zM2129.61 292.10h2.20v16.30h-2.20zM2142.15 303.30h2.20v10.50h-2.20zM2173.48 434.10h2.20v11.80h-2.20zM2186.02 430.50h2.20v7.10h-2.20zM2192.28 416.30h2.20v10.60h-2.20zM2198.55 399.30h2.20v13.40h-2.20zM2217.35 430.50h2.20v7.70h-2.20zM2223.62 410.30h2.20v16.60h-2.20zM2236.15 417.50h2.20v9.40h-2.20zM2242.42 384.30h2.20v29.60h-2.20zM2254.95 373.20h2.20v19.60h-2.20zM2261.22 351.20h2.20v18.40h-2.20zM2305.09 435.30h2.20v12.10h-2.20zM2311.36 426.10h2.20v5.60h-2.20zM2330.16 439.00h2.20v12.20h-2.20zM2336.42 402.10h2.20v33.30h-2.20zM2348.96 375.90h2.20v43.80h-2.20zM2386.56 494.50h2.20v1.10h-2.20zM2424.16 584.40h2.20v29.90h-2.20zM2430.43 566.70h2.20v14.10h-2.20zM2436.70 536.10h2.20v27.00h-2.20zM2455.50 634.50h2.20v5.30h-2.20zM2486.83 693.70h2.20v23.90h-2.20zM2511.90 670.30h2.20v17.10h-2.20zM2524.43 662.20h2.20v21.50h-2.20zM2543.23 669.20h2.20v14.50h-2.20zM2562.04 689.80h2.20v9.40h-2.20zM2574.57 689.80h2.20v19.80h-2.20zM2593.37 755.30h2.20v15.20h-2.20zM2624.71 726.10h2.20v60.90h-2.20zM2643.51 819.50h2.20v2.10h-2.20zM2656.04 825.60h2.20v5.00h-2.20zM2681.11 867.10h2.20v40.30h-2.20zM2687.38 826.70h2.20v36.80h-2.20zM2699.91 820.80h2.20v18.90h-2.20zM2718.71 801.80h2.20v44.50h-2.20zM2731.24 797.70h2.20v5.70h-2.20zM2737.51 787.30h2.20v6.80h-2.20zM2756.31 804.10h2.20v12.80h-2.20zM2762.58 768.00h2.20v32.50h-2.20zM2775.11 741.60h2.20v21.70h-2.20zM2806.45 812.20h2.20v11.60h-2.20zM2812.72 783.30h2.20v25.30h-2.20zM2831.52 810.60h2.20v28.10h-2.20zM2850.32 859.50h2.20v2.80h-2.20zM2862.85 826.20h2.20v56.70h-2.20zM2875.39 828.40h2.20v10.30h-2.20zM2881.65 799.40h2.20v25.40h-2.20zM2906.72 816.70h2.20v4.20h-2.20zM2912.99 810.50h2.20v2.60h-2.20zM2919.25 805.40h2.20v1.50h-2.20zM2925.52 795.40h2.20v6.40h-2.20zM2938.06 782.70h2.20v6.90h-2.20zM2944.32 727.40h2.20v51.70h-2.20zM2963.12 716.60h2.20v9.30h-2.20zM2969.39 710.60h2.20v1.90h-2.20zM2981.92 720.00h2.20v6.40h-2.20zM3038.33 755.20h2.20v9.50h-2.20zM3044.59 629.30h2.20v122.30h-2.20zM3050.86 584.30h2.20v41.40h-2.20zM3057.13 542.40h2.20v38.30h-2.20zM3075.93 519.40h2.20v21.50h-2.20zM3107.26 537.30h2.20v50.10h-2.20zM3126.07 543.20h2.20v11.00h-2.20zM3132.33 489.60h2.20v50.00h-2.20zM3157.40 537.70h2.20v2.70h-2.20zM3195.00 604.00h2.20v2.60h-2.20zM3201.27 585.10h2.20v15.30h-2.20zM3207.54 573.40h2.20v8.10h-2.20z" fill="#2962ff"/>
<path d="M22.10 1510.00h5.80v42.60h-5.80zM34.63 1549.10h5.80v17.20h-5.80zM53.44 1549.10h5.80v11.50h-5.80zM59.70 1560.60h5.80v24.90h-5.80zM65.97 1585.50h5.80v1.50h-5.80zM78.50 1576.00h5.80v16.90h-5.80zM84.77 1592.10h5.80v28.10h-5.80zM91.04 1619.00h5.80v5.30h-5.80zM103.57 1623.30h5.80v7.20h-5.80zM122.37 1603.30h5.80v11.00h-5.80zM128.64 1612.80h5.80v1.20h-5.80zM134.91 1614.00h5.80v23.70h-5.80zM141.17 1637.10h5.80v42.90h-5.80zM159.97 1671.00h5.80v1.60h-5.80zM166.24 1674.30h5.80v17.60h-5.80zM191.31 1655.30h5.80v5.30h-5.80zM203.84 1633.05h5.80v1.60h-5.80zM210.11 1634.90h5.80v4.80h-5.80zM235.18 1547.40h5.80v1.30h-5.80zM241.44 1549.00h5.80v27.30h-5.80zM266.51 1553.00h5.80v13.70h-5.80zM272.78 1565.90h5.80v15.60h-5.80zM285.31 1562.00h5.80v6.00h-5.80zM322.92 1154.70h5.80v66.10h-5.80zM354.25 821.50h5.80v44.50h-5.80zM366.79 810.00h5.80v22.80h-5.80zM379.32 715.50h5.80v11.90h-5.80zM385.59 727.40h5.80v10.10h-5.80zM398.12 714.50h5.80v36.80h-5.80zM416.92 673.40h5.80v47.10h-5.80zM423.19 720.50h5.80v76.90h-5.80zM435.72 774.40h5.80v60.00h-5.80zM441.99 834.40h5.80v12.90h-5.80zM454.52 746.60h5.80v24.20h-5.80zM460.79 770.80h5.80v26.60h-5.80zM467.06 797.40h5.80v6.20h-5.80zM485.86 761.40h5.80v3.10h-5.80zM492.13 764.20h5.80v22.10h-5.80zM504.66 765.00h5.80v15.80h-5.80zM523.46 726.00h5.80v44.40h-5.80zM529.73 769.70h5.80v37.90h-5.80zM535.99 807.60h5.80v26.80h-5.80zM548.53 827.30h5.80v21.30h-5.80zM573.60 778.20h5.80v42.60h-5.80zM592.40 804.30h5.80v89.50h-5.80zM598.66 893.80h5.80v65.30h-5.80zM611.20 928.80h5.80v26.30h-5.80zM623.73 931.40h5.80v39.90h-5.80zM667.60 783.10h5.80v24.40h-5.80zM680.14 778.20h5.80v22.40h-5.80zM686.40 800.30h5.80v10.30h-5.80zM705.20 801.50h5.80v41.10h-5.80zM736.54 732.50h5.80v6.20h-5.80zM742.81 738.70h5.80v9.50h-5.80zM749.07 748.20h5.80v23.00h-5.80zM767.87 739.80h5.80v5.20h-5.80zM799.21 649.45h5.80v1.60h-5.80zM805.48 650.80h5.80v19.90h-5.80zM818.01 665.40h5.80v27.30h-5.80zM824.28 692.70h5.80v16.70h-5.80zM843.08 535.60h5.80v13.90h-5.80zM855.61 503.40h5.80v23.00h-5.80zM880.68 456.40h5.80v18.10h-5.80zM886.95 474.50h5.80v34.10h-5.80zM893.21 508.60h5.80v10.20h-5.80zM905.75 490.70h5.80v16.10h-5.80zM912.01 506.80h5.80v6.10h-5.80zM918.28 512.90h5.80v5.40h-5.80zM924.55 517.50h5.80v2.30h-5.80zM937.08 513.70h5.80v6.90h-5.80zM943.35 520.60h5.80v49.10h-5.80zM949.62 569.70h5.80v22.80h-5.80zM962.15 569.70h5.80v23.80h-5.80zM980.95 555.50h5.80v43.10h-5.80zM987.22 598.30h5.80v20.30h-5.80zM1006.02 585.30h5.80v41.50h-5.80zM1012.29 626.80h5.80v6.60h-5.80zM1024.82 619.50h5.80v12.30h-5.80zM1043.62 616.00h5.80v19.50h-5.80zM1062.42 567.60h5.80v9.60h-5.80zM1074.96 575.30h5.80v36.10h-5.80zM1081.22 611.40h5.80v10.00h-5.80zM1093.76 598.30h5.80v18.50h-5.80zM1100.02 616.80h5.80v3.00h-5.80zM1106.29 619.80h5.80v42.70h-5.80zM1112.56 662.50h5.80v57.90h-5.80zM1118.83 719.20h5.80v1.30h-5.80zM1131.36 683.60h5.80v62.80h-5.80zM1143.89 709.10h5.80v4.20h-5.80zM1156.43 707.40h5.80v14.30h-5.80zM1162.69 721.20h5.80v10.50h-5.80zM1194.03 582.10h5.80v24.50h-5.80zM1200.30 604.90h5.80v1.20h-5.80zM1212.83 572.10h5.80v16.40h-5.80zM1225.36 578.40h5.80v21.50h-5.80zM1237.90 577.10h5.80v11.40h-5.80zM1244.16 588.50h5.80v25.90h-5.80zM1256.70 594.30h5.80v4.60h-5.80zM1262.97 598.90h5.80v5.50h-5.80zM1275.50 603.40h5.80v18.40h-5.80zM1281.77 620.60h5.80v9.70h-5.80zM1288.03 628.70h5.80v22.30h-5.80zM1294.30 650.60h5.80v52.40h-5.80zM1300.57 702.40h5.80v32.90h-5.80zM1306.84 735.30h5.80v25.70h-5.80zM1313.10 761.00h5.80v58.10h-5.80zM1325.64 780.00h5.80v20.20h-5.80zM1338.17 727.70h5.80v12.20h-5.80zM1344.44 739.90h5.80v3.20h-5.80zM1350.70 743.10h5.80v38.20h-5.80zM1363.24 753.70h5.80v2.30h-5.80zM1369.50 756.00h5.80v9.20h-5.80zM1375.77 765.20h5.80v31.50h-5.80zM1382.04 796.70h5.80v14.60h-5.80zM1394.57 794.50h5.80v10.80h-5.80zM1438.44 694.20h5.80v15.90h-5.80zM1444.71 710.10h5.80v29.60h-5.80zM1450.98 739.30h5.80v45.90h-5.80zM1463.51 782.20h5.80v1.60h-5.80zM1476.04 778.20h5.80v10.20h-5.80zM1482.31 788.40h5.80v26.20h-5.80zM1494.85 787.40h5.80v19.00h-5.80zM1507.38 802.40h5.80v14.20h-5.80zM1513.65 816.60h5.80v27.80h-5.80zM1544.98 795.40h5.80v12.80h-5.80zM1563.78 771.10h5.80v8.50h-5.80zM1570.05 779.30h5.80v23.10h-5.80zM1576.32 801.40h5.80v8.90h-5.80zM1613.92 745.50h5.80v19.60h-5.80zM1632.72 736.60h5.80v6.70h-5.80zM1657.79 617.60h5.80v3.90h-5.80zM1664.05 621.50h5.80v32.20h-5.80zM1670.32 653.70h5.80v31.80h-5.80zM1676.59 685.50h5.80v20.10h-5.80zM1682.86 705.60h5.80v28.80h-5.80zM1707.92 662.40h5.80v18.10h-5.80zM1714.19 680.50h5.80v12.50h-5.80zM1720.46 693.20h5.80v18.60h-5.80zM1745.53 677.60h5.80v8.00h-5.80zM1758.06 636.20h5.80v20.20h-5.80zM1770.59 654.40h5.80v23.20h-5.80zM1783.13 650.10h5.80v1.60h-5.80zM1795.66 644.20h5.80v21.50h-5.80zM1801.93 665.70h5.80v3.90h-5.80zM1808.19 669.60h5.80v10.70h-5.80zM1820.73 672.30h5.80v55.00h-5.80zM1852.06 684.95h5.80v1.60h-5.80zM1858.33 688.20h5.80v23.20h-5.80zM1864.60 711.40h5.80v11.10h-5.80zM1870.87 722.50h5.80v8.00h-5.80zM1877.13 730.00h5.80v27.70h-5.80zM1883.40 757.70h5.80v12.80h-5.80zM1908.47 632.60h5.80v7.90h-5.80zM1946.07 363.50h5.80v2.90h-5.80zM1958.60 315.70h5.80v39.00h-5.80zM1964.87 353.40h5.80v1.30h-5.80zM1971.14 355.30h5.80v15.10h-5.80zM1977.40 370.40h5.80v16.90h-5.80zM1983.67 387.30h5.80v18.80h-5.80zM1996.20 365.50h5.80v1.50h-5.80zM2002.47 367.00h5.80v3.40h-5.80zM2008.74 370.40h5.80v6.40h-5.80zM2015.01 376.80h5.80v25.40h-5.80zM2021.27 402.20h5.80v16.00h-5.80zM2046.34 370.10h5.80v6.90h-5.80zM2058.88 335.30h5.80v36.30h-5.80zM2065.14 371.60h5.80v3.90h-5.80zM2077.68 344.50h5.80v11.00h-5.80zM2109.01 261.10h5.80v51.40h-5.80zM2121.55 284.10h5.80v26.60h-5.80zM2134.08 289.50h5.80v26.10h-5.80zM2146.61 301.00h5.80v12.80h-5.80zM2152.88 313.30h5.80v19.20h-5.80zM2159.15 332.50h5.80v60.00h-5.80zM2165.41 392.50h5.80v55.20h-5.80zM2177.95 432.30h5.80v7.10h-5.80zM2203.02 397.50h5.80v15.20h-5.80zM2209.28 412.10h5.80v27.90h-5.80zM2228.08 408.50h5.80v20.20h-5.80zM2246.89 382.50h5.80v12.10h-5.80zM2265.69 349.40h5.80v8.20h-5.80zM2271.95 357.60h5.80v9.00h-5.80zM2284.49 363.80h5.80v48.00h-5.80zM2290.75 411.50h5.80v17.80h-5.80zM2297.02 429.30h5.80v19.20h-5.80zM2315.82 424.20h5.80v7.80h-5.80zM2322.09 430.30h5.80v22.30h-5.80zM2340.89 400.30h5.80v21.20h-5.80zM2353.42 374.10h5.80v40.50h-5.80zM2359.69 414.20h5.80v59.30h-5.80zM2365.96 473.50h5.80v7.00h-5.80zM2378.49 477.40h5.80v20.60h-5.80zM2391.03 492.20h5.80v11.40h-5.80zM2403.56 500.00h5.80v31.10h-5.80zM2409.83 530.60h5.80v27.90h-5.80zM2416.09 558.60h5.80v57.50h-5.80zM2441.16 534.30h5.80v53.20h-5.80zM2447.43 587.50h5.80v54.10h-5.80zM2459.96 632.70h5.80v32.80h-5.80zM2466.23 665.50h5.80v6.20h-5.80zM2472.50 671.70h5.80v35.30h-5.80zM2478.76 707.00h5.80v12.40h-5.80zM2491.30 690.60h5.80v1.30h-5.80zM2503.83 687.85h5.80v1.60h-5.80zM2516.37 668.50h5.80v17.00h-5.80zM2528.90 660.40h5.80v15.10h-5.80zM2535.17 675.50h5.80v10.00h-5.80zM2547.70 667.40h5.80v36.90h-5.80zM2566.50 688.00h5.80v23.40h-5.80zM2579.04 688.00h5.80v12.50h-5.80zM2585.30 700.10h5.80v72.20h-5.80zM2604.10 750.70h5.80v5.00h-5.80zM2610.37 754.60h5.80v15.60h-5.80zM2616.64 769.70h5.80v19.10h-5.80zM2629.17 724.30h5.80v84.80h-5.80zM2635.44 809.10h5.80v14.30h-5.80zM2647.97 817.70h5.80v14.70h-5.80zM2660.51 823.40h5.80v18.80h-5.80zM2666.77 842.20h5.80v55.50h-5.80zM2673.04 897.70h5.80v11.50h-5.80zM2691.84 824.90h5.80v16.60h-5.80zM2710.64 814.40h5.80v34.50h-5.80zM2723.18 799.10h5.80v6.10h-5.80zM2741.98 785.50h5.80v24.90h-5.80zM2748.24 810.40h5.80v8.30h-5.80zM2779.58 739.80h5.80v4.00h-5.80zM2785.85 743.00h5.80v34.50h-5.80zM2792.11 777.50h5.80v32.10h-5.80zM2798.38 809.60h5.80v16.00h-5.80zM2817.18 781.50h5.80v38.20h-5.80zM2823.45 819.70h5.80v20.80h-5.80zM2835.98 808.80h5.80v10.90h-5.80zM2842.25 819.70h5.80v44.40h-5.80zM2854.78 857.50h5.80v27.10h-5.80zM2867.32 824.40h5.80v16.10h-5.80zM2886.12 797.60h5.80v8.40h-5.80zM2898.65 802.30h5.80v20.40h-5.80zM2955.06 723.90h5.80v3.80h-5.80zM2973.86 707.60h5.80v20.60h-5.80zM2986.39 718.20h5.80v4.50h-5.80zM2998.93 721.30h5.80v8.20h-5.80zM3005.19 728.25h5.80v1.60h-5.80zM3011.46 731.10h5.80v26.30h-5.80zM3017.73 757.10h5.80v4.40h-5.80zM3023.99 761.20h5.80v8.20h-5.80zM3061.60 540.60h5.80v1.50h-5.80zM3080.40 517.60h5.80v15.30h-5.80zM3086.66 532.90h5.80v28.70h-5.80zM3092.93 561.60h5.80v14.60h-5.80zM3099.20 576.10h5.80v13.10h-5.80zM3111.73 535.50h5.80v18.10h-5.80zM3118.00 554.00h5.80v2.00h-5.80zM3136.80 487.80h5.80v48.60h-5.80zM3143.07 535.15h5.80v1.60h-5.80zM3149.33 537.50h5.80v4.70h-5.80zM3174.40 530.50h5.80v17.60h-5.80zM3180.67 547.30h5.80v62.80h-5.80z" fill="#f23645"/>
</g>
<g stroke="#e91e63" stroke-linecap="round" fill="none">
<line x1="2738" y1="236" x2="2738" y2="570" stroke-width="3.4"/>
<line x1="2725" y1="570" x2="2752" y2="570" stroke-width="3.8"/>
<line x1="2726" y1="232" x2="2751.5" y2="232" stroke-width="3.6"/>
<polyline points="2717.8,251.8 2738,235 2758.2,251.8" stroke-width="3.5" stroke-linejoin="round"/>
</g>
<line x1="20" y1="571" x2="3288" y2="571" stroke="#1450ff" stroke-width="2" stroke-dasharray="2 4"/>
<rect x="2532" y="162" width="412" height="50" rx="7" fill="#3a9cf0" filter="url(#sh)"/>
<rect x="3294" y="62" width="252" height="52" rx="8" fill="#fff" stroke="#f0f0f0" stroke-width="1.8"/>
<g fill="#131722"><path d="M20.1 1942.4H35.2V1961.4H27.8V1949.6H20.1Z"/><circle cx="42" cy="1946.5" r="4.2"/><path d="M49.5 1942.4H59.1L50.8 1961.4H42.5Z"/></g>
<text x="3307.85" y="168.10" font-size="33" fill="#131722" stroke="#131722" stroke-width="0.40" textLength="202.52" lengthAdjust="spacingAndGlyphs">0.000034000</text>
<text x="3307.85" y="351.30" font-size="33" fill="#131722" stroke="#131722" stroke-width="0.40" textLength="202.52" lengthAdjust="spacingAndGlyphs">0.000022000</text>
<text x="3307.85" y="435.76" font-size="33" fill="#131722" stroke="#131722" stroke-width="0.40" textLength="202.52" lengthAdjust="spacingAndGlyphs">0.000018000</text>
<text x="3307.85" y="541.52" font-size="33" fill="#131722" stroke="#131722" stroke-width="0.40" textLength="202.52" lengthAdjust="spacingAndGlyphs">0.000014000</text>
<text x="3307.84" y="643.01" font-size="33" fill="#131722" stroke="#131722" stroke-width="0.40" textLength="202.54" lengthAdjust="spacingAndGlyphs">0.000011000</text>
<text x="3307.85" y="727.47" font-size="33" fill="#131722" stroke="#131722" stroke-width="0.40" textLength="202.52" lengthAdjust="spacingAndGlyphs">0.000009000</text>
<text x="3307.85" y="833.23" font-size="33" fill="#131722" stroke="#131722" stroke-width="0.40" textLength="202.52" lengthAdjust="spacingAndGlyphs">0.000007000</text>
<text x="3307.85" y="934.73" font-size="33" fill="#131722" stroke="#131722" stroke-width="0.40" textLength="202.52" lengthAdjust="spacingAndGlyphs">0.000005500</text>
<text x="3307.85" y="1019.18" font-size="33" fill="#131722" stroke="#131722" stroke-width="0.40" textLength="202.52" lengthAdjust="spacingAndGlyphs">0.000004500</text>
<text x="3307.85" y="1101.56" font-size="33" fill="#131722" stroke="#131722" stroke-width="0.40" textLength="202.52" lengthAdjust="spacingAndGlyphs">0.000003700</text>
<text x="3307.85" y="1204.09" font-size="33" fill="#131722" stroke="#131722" stroke-width="0.40" textLength="202.52" lengthAdjust="spacingAndGlyphs">0.000002900</text>
<text x="3307.85" y="1301.64" font-size="33" fill="#131722" stroke="#131722" stroke-width="0.40" textLength="202.52" lengthAdjust="spacingAndGlyphs">0.000002300</text>
<text x="3307.85" y="1382.04" font-size="33" fill="#131722" stroke="#131722" stroke-width="0.40" textLength="202.52" lengthAdjust="spacingAndGlyphs">0.000001900</text>
<text x="3307.85" y="1481.53" font-size="33" fill="#131722" stroke="#131722" stroke-width="0.40" textLength="202.52" lengthAdjust="spacingAndGlyphs">0.000001500</text>
<text x="3307.85" y="1575.44" font-size="33" fill="#131722" stroke="#131722" stroke-width="0.40" textLength="202.52" lengthAdjust="spacingAndGlyphs">0.000001200</text>
<text x="3307.85" y="1673.76" font-size="33" fill="#131722" stroke="#131722" stroke-width="0.40" textLength="202.52" lengthAdjust="spacingAndGlyphs">0.000000950</text>
<text x="3307.85" y="1762.16" font-size="33" fill="#131722" stroke="#131722" stroke-width="0.40" textLength="202.52" lengthAdjust="spacingAndGlyphs">0.000000770</text>
<text x="3307.85" y="1846.62" font-size="33" fill="#131722" stroke="#131722" stroke-width="0.40" textLength="202.52" lengthAdjust="spacingAndGlyphs">0.000000630</text>
<path d="M3288 210.9h233.7a4 4 0 0 1 4 4v37.6a4 4 0 0 1 -4 4h-233.7z" fill="#e91e63"/>
<text x="3308.44" y="245.21" font-size="33" fill="#fff" stroke="#fff" stroke-width="0.40" textLength="203.59" lengthAdjust="spacingAndGlyphs">0.000028308</text>
<path d="M3288 446.9h233.7a4 4 0 0 1 4 4v37.6a4 4 0 0 1 -4 4h-233.7z" fill="#2962ff"/>
<text x="3308.44" y="481.22" font-size="33" fill="#fff" stroke="#fff" stroke-width="0.40" textLength="203.59" lengthAdjust="spacingAndGlyphs">0.000016157</text>
<path d="M3288 877.0h233.7a4 4 0 0 1 4 4v37.6a4 4 0 0 1 -4 4h-233.7z" fill="#2962ff"/>
<text x="3308.44" y="911.29" font-size="33" fill="#fff" stroke="#fff" stroke-width="0.40" textLength="203.59" lengthAdjust="spacingAndGlyphs">0.000005815</text>
<text x="3312.83" y="96.30" font-size="24" fill="#131722" stroke="#131722" stroke-width="0.40" textLength="48.99" lengthAdjust="spacingAndGlyphs">USD</text>
<text x="2550.40" y="195.80" font-size="24" fill="#000" stroke="#000" stroke-width="0.40" textLength="375.19" lengthAdjust="spacingAndGlyphs">0.000015703 (123.26%) 15,703</text>
<text x="123.01" y="1892.00" font-size="32" fill="#131722" stroke="#131722" stroke-width="0.40" textLength="54.99" lengthAdjust="spacingAndGlyphs">Feb</text>
<text x="303.67" y="1892.00" font-size="32" fill="#131722" stroke="#131722" stroke-width="0.40" textLength="55.98" lengthAdjust="spacingAndGlyphs">Mar</text>
<text x="502.00" y="1892.00" font-size="32" fill="#131722" stroke="#131722" stroke-width="0.40" textLength="49.26" lengthAdjust="spacingAndGlyphs">Apr</text>
<text x="683.38" y="1892.00" font-size="32" fill="#131722" stroke="#131722" stroke-width="0.40" textLength="60.92" lengthAdjust="spacingAndGlyphs">May</text>
<text x="884.00" y="1892.00" font-size="32" fill="#131722" stroke="#131722" stroke-width="0.40" textLength="52.22" lengthAdjust="spacingAndGlyphs">Jun</text>
<text x="1077.40" y="1892.00" font-size="32" fill="#131722" stroke="#131722" stroke-width="0.40" textLength="42.28" lengthAdjust="spacingAndGlyphs">Jul</text>
<text x="1263.20" y="1892.00" font-size="32" fill="#131722" stroke="#131722" stroke-width="0.40" textLength="58.13" lengthAdjust="spacingAndGlyphs">Aug</text>
<text x="1457.31" y="1892.00" font-size="32" fill="#131722" stroke="#131722" stroke-width="0.40" textLength="56.48" lengthAdjust="spacingAndGlyphs">Sep</text>
<text x="1647.16" y="1892.00" font-size="32" fill="#131722" stroke="#131722" stroke-width="0.40" textLength="51.62" lengthAdjust="spacingAndGlyphs">Oct</text>
<text x="1838.40" y="1892.00" font-size="32" fill="#131722" stroke="#131722" stroke-width="0.40" textLength="56.80" lengthAdjust="spacingAndGlyphs">Nov</text>
<text x="2027.10" y="1892.00" font-size="32" fill="#131722" stroke="#131722" stroke-width="0.40" textLength="56.80" lengthAdjust="spacingAndGlyphs">Dec</text>
<text x="2208.54" y="1892.00" font-size="32" fill="#131722" font-weight="bold" textLength="82.48" lengthAdjust="spacingAndGlyphs">2025</text>
<text x="2416.74" y="1892.00" font-size="32" fill="#131722" stroke="#131722" stroke-width="0.40" textLength="54.04" lengthAdjust="spacingAndGlyphs">Feb</text>
<text x="2591.19" y="1892.00" font-size="32" fill="#131722" stroke="#131722" stroke-width="0.40" textLength="55.36" lengthAdjust="spacingAndGlyphs">Mar</text>
<text x="2789.40" y="1892.00" font-size="32" fill="#131722" stroke="#131722" stroke-width="0.40" textLength="48.76" lengthAdjust="spacingAndGlyphs">Apr</text>
<text x="2970.71" y="1892.00" font-size="32" fill="#131722" stroke="#131722" stroke-width="0.40" textLength="60.29" lengthAdjust="spacingAndGlyphs">May</text>
<text x="3170.80" y="1892.00" font-size="32" fill="#131722" stroke="#131722" stroke-width="0.40" textLength="52.12" lengthAdjust="spacingAndGlyphs">Jun</text>
<text x="19.86" y="40.20" font-size="24.5" fill="#000" stroke="#000" stroke-width="0.40" textLength="768.79" lengthAdjust="spacingAndGlyphs">crispus9 published on TradingView.com, Jun 03, 2025 16:55 UTC+3</text>
<text x="36.51" y="94.00" font-size="23.5" fill="#131722" stroke="#131722" stroke-width="0.40" textLength="221.57" lengthAdjust="spacingAndGlyphs">Pepe · 1D · CRYPTO</text>
<text x="272.22" y="94.00" font-size="23.5" fill="#131722" stroke="#131722" stroke-width="0.40" textLength="19.74" lengthAdjust="spacingAndGlyphs">O</text>
<text x="292.20" y="94.00" font-size="23.5" fill="#089981" stroke="#089981" stroke-width="0.40" textLength="148.46" lengthAdjust="spacingAndGlyphs">0.000012357</text>
<text x="455.65" y="94.00" font-size="23.5" fill="#131722" stroke="#131722" stroke-width="0.40" textLength="16.18" lengthAdjust="spacingAndGlyphs">H</text>
<text x="474.30" y="94.00" font-size="23.5" fill="#089981" stroke="#089981" stroke-width="0.40" textLength="148.58" lengthAdjust="spacingAndGlyphs">0.000012885</text>
<text x="639.02" y="94.00" font-size="23.5" fill="#131722" stroke="#131722" stroke-width="0.40" textLength="14.12" lengthAdjust="spacingAndGlyphs">L</text>
<text x="653.10" y="94.00" font-size="23.5" fill="#089981" stroke="#089981" stroke-width="0.40" textLength="148.15" lengthAdjust="spacingAndGlyphs">0.000012279</text>
<text x="814.97" y="94.00" font-size="23.5" fill="#131722" stroke="#131722" stroke-width="0.40" textLength="15.80" lengthAdjust="spacingAndGlyphs">C</text>
<text x="833.40" y="94.00" font-size="23.5" fill="#089981" stroke="#089981" stroke-width="0.40" textLength="146.97" lengthAdjust="spacingAndGlyphs">0.000012700</text>
<text x="36.44" y="127.50" font-size="23.5" fill="#131722" stroke="#131722" stroke-width="0.40" textLength="177.44" lengthAdjust="spacingAndGlyphs">EMA (50, close)</text>
<text x="229.60" y="127.50" font-size="23.5" fill="#2962ff" stroke="#2962ff" stroke-width="0.40" textLength="147.28" lengthAdjust="spacingAndGlyphs">0.000011448</text>
<text x="36.43" y="161.50" font-size="23.5" fill="#131722" stroke="#131722" stroke-width="0.40" textLength="192.15" lengthAdjust="spacingAndGlyphs">EMA (200, close)</text>
<text x="245.00" y="161.50" font-size="23.5" fill="#e91e63" stroke="#e91e63" stroke-width="0.40" textLength="142.87" lengthAdjust="spacingAndGlyphs">0.000011075</text>
<text x="67.10" y="1962.70" font-size="26" fill="#131722" stroke="#131722" stroke-width="0.40" textLength="147.47" lengthAdjust="spacingAndGlyphs">TradingView</text>
</svg></body></html>
